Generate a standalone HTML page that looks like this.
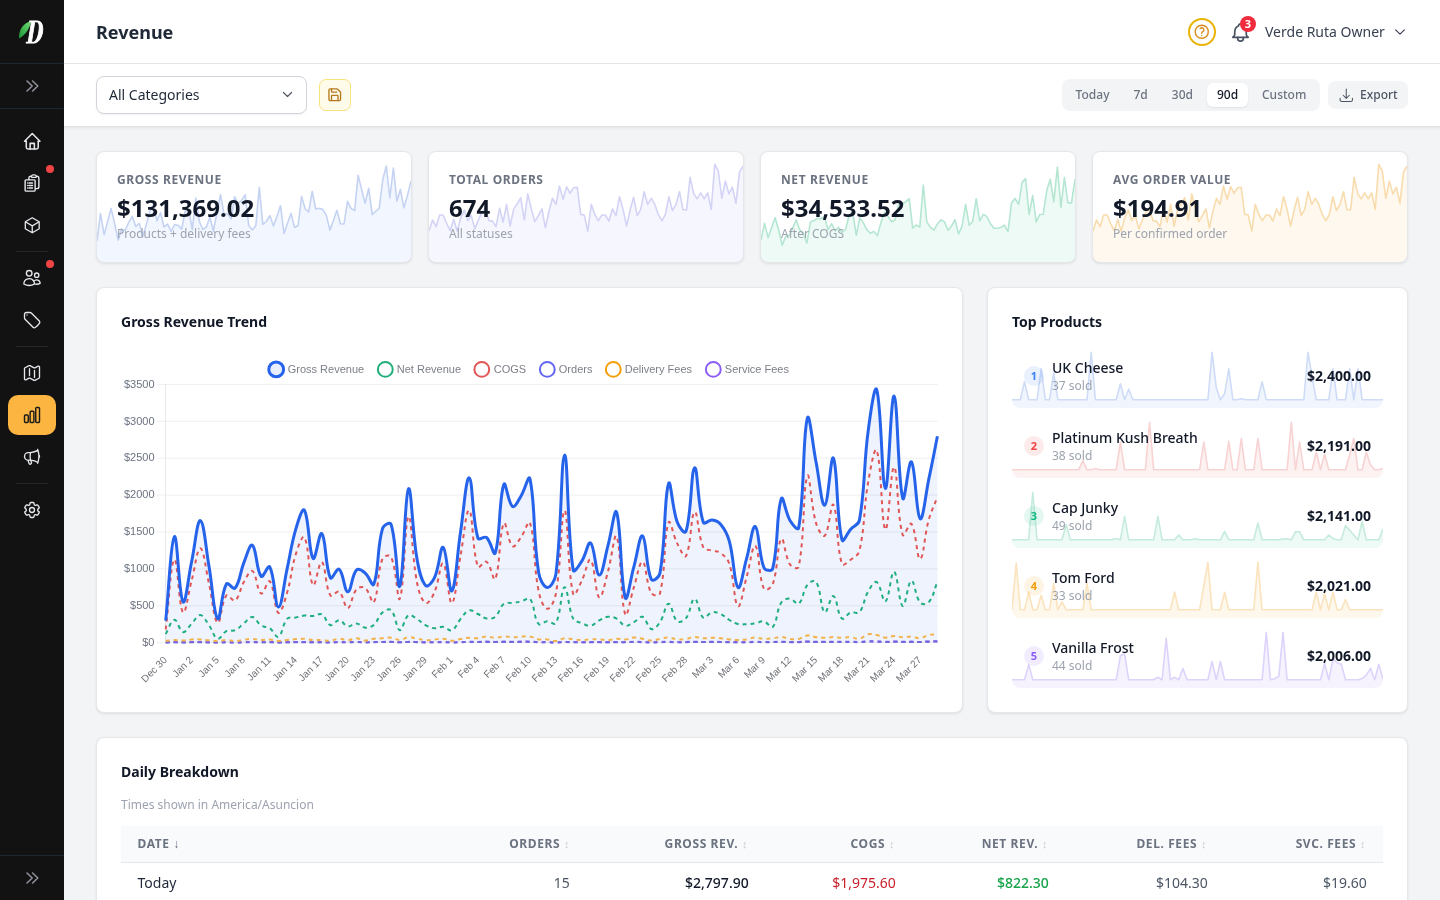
<!DOCTYPE html>
<html lang="en"><head><meta charset="utf-8"><title>Revenue</title>
<style>
*{box-sizing:border-box;margin:0;padding:0}
html,body{width:1440px;height:900px;overflow:hidden;background:#f3f4f6;font-family:"Noto Sans","Liberation Sans",sans-serif;color:#111827}
.abs{position:absolute}
.t{position:absolute;line-height:1;white-space:nowrap}
.sb{position:absolute;left:0;top:0;width:64px;height:900px;background:#121212}
.sdiv{position:absolute;left:0;width:64px;height:1px;background:#1f2733}
.sdiv2{position:absolute;left:16px;width:32px;height:1px;background:#262626}
.dot{position:absolute;width:8px;height:8px;border-radius:50%;background:#ef4444}
.hdr{position:absolute;left:64px;top:0;width:1376px;height:64px;background:#fff;border-bottom:1px solid #e5e7eb}
.tb{position:absolute;left:64px;top:64px;width:1376px;height:63px;background:#fff;border-bottom:1px solid #dfe1e4;box-shadow:0 1px 3px rgba(0,0,0,0.08)}
.card{position:absolute;background:#fff;border:1px solid #e5e7eb;border-radius:8px;box-shadow:0 1px 3px rgba(0,0,0,0.08),0 1px 2px -1px rgba(0,0,0,0.06)}
.yl{font-family:"Liberation Sans",Arial,sans-serif;font-size:11px;fill:#6b7280}
.xl{font-family:"Liberation Sans",Arial,sans-serif;font-size:10px;fill:#6f7177}
.lg{font-family:"Liberation Sans",Arial,sans-serif;font-size:11px;fill:#7b7f87}
.prow{position:absolute;left:1012px;width:371px;height:60px}
.rank{position:absolute;left:12px;top:18px;width:20px;height:20px;border-radius:50%;font-size:11px;font-weight:700;line-height:20px;text-align:center}
.pname{position:absolute;left:40px;top:12.9px;font-size:14px;font-weight:500;line-height:1;color:#111827;white-space:nowrap}
.psold{position:absolute;left:40px;top:32px;font-size:12px;line-height:1;color:#9ca3af;white-space:nowrap}
.pprice{position:absolute;right:12px;top:20.6px;font-size:14px;line-height:1;font-weight:700;color:#111827}
</style></head>
<body>
<div class="sb"></div>
<svg class="abs" style="left:14px;top:14px" width="36" height="36" viewBox="0 0 36 36"><defs><linearGradient id="lf" x1="0" y1="1" x2="1" y2="0"><stop offset="0" stop-color="#1f8f35"/><stop offset="0.6" stop-color="#4cc25a"/><stop offset="1" stop-color="#7fd77a"/></linearGradient></defs><path d="M5 24.6 C4.6 15.6 9.4 8.4 17.4 7.2 C15.6 13.6 12.4 20.4 5 24.6Z" fill="url(#lf)"/><text x="0" y="0" transform="translate(12.9 29.2) scale(0.72 1)" font-family="Bodoni Moda,Liberation Serif,serif" font-style="italic" font-weight="700" font-size="29" fill="#fff" stroke="#fff" stroke-width="1.1" stroke-linejoin="round">D</text></svg>
<div class="sdiv" style="top:63px"></div>
<svg class="abs" style="left:20.0px;top:74.0px" width="24" height="24" viewBox="0 0 24 24" fill="none" stroke="#8e9099" stroke-width="1.6" stroke-linecap="round" stroke-linejoin="round"><path d="M7 7l5.2 5-5.2 5M12.6 7l5.2 5-5.2 5"/></svg>
<div class="sdiv" style="top:108px"></div>
<svg class="abs" style="left:21.8px;top:130.9px" width="20.5" height="20.5" viewBox="0 0 24 24" fill="none" stroke="#e5e7eb" stroke-width="1.8" stroke-linecap="round" stroke-linejoin="round"><path d="M5 12l-2 0l9 -9l9 9l-2 0"/><path d="M5 12v7a2 2 0 0 0 2 2h10a2 2 0 0 0 2 -2v-7"/><path d="M9.5 21v-6.5h5v6.5"/></svg>
<svg class="abs" style="left:22.0px;top:173.0px" width="20" height="20" viewBox="0 0 24 24" fill="none" stroke="#e5e7eb" stroke-width="1.7" stroke-linecap="round" stroke-linejoin="round"><path d="M8.4 12h4.2M8.4 15h4.2M8.4 18h4.2m3.15 .75H18a2.25 2.25 0 0 0 2.25-2.25V6.108c0-1.135-.845-2.098-1.976-2.192a48.424 48.424 0 0 0-1.123-.08m-5.801 0c-.065.21-.1.433-.1.664 0 .414.336.75.75.75h4.5a.75.75 0 0 0 .75-.75 2.25 2.25 0 0 0-.1-.664m-5.8 0A2.251 2.251 0 0 1 13.5 2.25H15c1.012 0 1.867.668 2.15 1.586m-5.8 0c-.376.023-.75.05-1.124.08C9.095 4.01 8.25 4.973 8.25 6.108V8.25m0 0H4.875c-.621 0-1.125.504-1.125 1.125v11.25c0 .621.504 1.125 1.125 1.125h9.75c.621 0 1.125-.504 1.125-1.125V9.375c0-.621-.504-1.125-1.125-1.125H8.25ZM6.75 12h.008v.008H6.75V12Zm0 3h.008v.008H6.75V15Zm0 3h.008v.008H6.75V18Z"/></svg>
<div class="dot" style="left:46px;top:164.6px"></div>
<svg class="abs" style="left:22.8px;top:215.8px" width="18.5" height="18.5" viewBox="0 0 24 24" fill="none" stroke="#e5e7eb" stroke-width="1.7" stroke-linecap="round" stroke-linejoin="round"><path d="m21 7.5-9-5.25L3 7.5m18 0-9 5.25m9-5.25v9l-9 5.25M3 7.5l9 5.25M3 7.5v9l9 5.25m0-9v9"/></svg>
<div class="sdiv2" style="top:251px"></div>
<svg class="abs" style="left:22.0px;top:268.0px" width="20" height="20" viewBox="0 0 24 24" fill="none" stroke="#e5e7eb" stroke-width="1.6" stroke-linecap="round" stroke-linejoin="round"><path d="M15 19.128a9.38 9.38 0 0 0 2.625.372 9.337 9.337 0 0 0 4.121-.952 4.125 4.125 0 0 0-7.533-2.493M15 19.128v-.003c0-1.113-.285-2.16-.786-3.07M15 19.128v.106A12.318 12.318 0 0 1 8.624 21c-2.331 0-4.512-.645-6.374-1.766l-.001-.109a6.375 6.375 0 0 1 11.964-3.07M12 6.375a3.375 3.375 0 1 1-6.75 0 3.375 3.375 0 0 1 6.75 0Zm8.25 2.25a2.625 2.625 0 1 1-5.25 0 2.625 2.625 0 0 1 5.25 0Z"/></svg>
<div class="dot" style="left:46px;top:259.6px"></div>
<svg class="abs" style="left:22.0px;top:310.0px" width="20" height="20" viewBox="0 0 24 24" fill="none" stroke="#e5e7eb" stroke-width="1.6" stroke-linecap="round" stroke-linejoin="round"><path d="M9.568 3H5.25A2.25 2.25 0 0 0 3 5.25v4.318c0 .597.237 1.17.659 1.591l9.581 9.581c.699.699 1.78.872 2.607.33a18.095 18.095 0 0 0 5.223-5.223c.542-.827.369-1.908-.33-2.607L11.16 3.66A2.25 2.25 0 0 0 9.568 3ZM6 6h.008v.008H6V6Z"/></svg>
<div class="sdiv2" style="top:346px"></div>
<svg class="abs" style="left:22.0px;top:363.0px" width="20" height="20" viewBox="0 0 24 24" fill="none" stroke="#e5e7eb" stroke-width="1.6" stroke-linecap="round" stroke-linejoin="round"><path d="M9 6.75V15m6-6v8.25m.503 3.498 4.875-2.437c.381-.19.622-.58.622-1.006V4.82c0-.836-.88-1.38-1.628-1.006l-3.869 1.934c-.317.159-.69.159-1.006 0L9.503 3.252a1.125 1.125 0 0 0-1.006 0L3.622 5.689C3.24 5.88 3 6.27 3 6.695V19.18c0 .836.88 1.38 1.628 1.006l3.869-1.934c.317-.159.69-.159 1.006 0l4.994 2.497c.317.158.69.158 1.006 0Z"/></svg>
<div class="abs" style="left:8px;top:395px;width:48px;height:40px;border-radius:10px;background:#fbb540"></div>
<svg class="abs" style="left:22.0px;top:405.0px" width="20" height="20" viewBox="0 0 24 24" fill="none" stroke="#1a1a1a" stroke-width="1.7" stroke-linecap="round" stroke-linejoin="round"><path d="M3 13.125C3 12.504 3.504 12 4.125 12h2.25c.621 0 1.125.504 1.125 1.125v6.75C7.5 20.496 6.996 21 6.375 21h-2.25A1.125 1.125 0 0 1 3 19.875v-6.75ZM9.75 8.625c0-.621.504-1.125 1.125-1.125h2.25c.621 0 1.125.504 1.125 1.125v11.25c0 .621-.504 1.125-1.125 1.125h-2.25a1.125 1.125 0 0 1-1.125-1.125V8.625ZM16.5 4.125c0-.621.504-1.125 1.125-1.125h2.25C20.496 3 21 3.504 21 4.125v15.75c0 .621-.504 1.125-1.125 1.125h-2.25a1.125 1.125 0 0 1-1.125-1.125V4.125Z"/></svg>
<svg class="abs" style="left:22.0px;top:447.0px" width="20" height="20" viewBox="0 0 24 24" fill="none" stroke="#e5e7eb" stroke-width="1.6" stroke-linecap="round" stroke-linejoin="round"><path d="M10.34 15.84c-.688-.06-1.386-.09-2.09-.09H7.5a4.5 4.5 0 1 1 0-9h.75c.704 0 1.402-.03 2.09-.09m0 9.18c.253.962.584 1.892.985 2.783.247.55.06 1.21-.463 1.511l-.657.38c-.551.318-1.26.117-1.527-.461a20.845 20.845 0 0 1-1.44-4.282m3.102.069a18.03 18.03 0 0 1-.59-4.59c0-1.586.205-3.124.59-4.59m0 9.18a23.848 23.848 0 0 1 8.835 2.535M10.34 6.66a23.847 23.847 0 0 0 8.835-2.535m0 0A23.74 23.74 0 0 0 18.795 3m.38 1.125a23.91 23.91 0 0 1 1.014 5.395m-1.014 8.855c-.118.38-.245.754-.38 1.125m.38-1.125a23.91 23.91 0 0 0 1.014-5.395m0-3.46c.495.413.811 1.035.811 1.73 0 .695-.316 1.317-.811 1.73m0-3.46a24.347 24.347 0 0 1 0 3.46"/></svg>
<div class="sdiv2" style="top:483px"></div>
<svg class="abs" style="left:22.0px;top:500.0px" width="20" height="20" viewBox="0 0 24 24" fill="none" stroke="#e5e7eb" stroke-width="1.6" stroke-linecap="round" stroke-linejoin="round"><path d="M9.594 3.94c.09-.542.56-.94 1.11-.94h2.593c.55 0 1.02.398 1.11.94l.213 1.281c.063.374.313.686.645.87.074.04.147.083.22.127.325.196.72.257 1.075.124l1.217-.456a1.125 1.125 0 0 1 1.37.49l1.296 2.247a1.125 1.125 0 0 1-.26 1.431l-1.003.827c-.293.241-.438.613-.43.992a7.723 7.723 0 0 1 0 .255c-.008.378.137.75.43.991l1.004.827c.424.35.534.955.26 1.43l-1.298 2.247a1.125 1.125 0 0 1-1.369.491l-1.217-.456c-.355-.133-.75-.072-1.076.124a6.47 6.47 0 0 1-.22.128c-.331.183-.581.495-.644.869l-.213 1.281c-.09.543-.56.94-1.11.94h-2.594c-.55 0-1.019-.398-1.11-.94l-.213-1.281c-.062-.374-.312-.686-.644-.87a6.52 6.52 0 0 1-.22-.127c-.325-.196-.72-.257-1.076-.124l-1.217.456a1.125 1.125 0 0 1-1.369-.49l-1.297-2.247a1.125 1.125 0 0 1 .26-1.431l1.004-.827c.292-.24.437-.613.43-.991a6.932 6.932 0 0 1 0-.255c.007-.38-.138-.751-.43-.992l-1.004-.827a1.125 1.125 0 0 1-.26-1.43l1.297-2.247a1.125 1.125 0 0 1 1.37-.491l1.216.456c.356.133.751.072 1.076-.124.072-.044.146-.086.22-.128.332-.183.582-.495.644-.869l.214-1.28ZM15 12a3 3 0 1 1-6 0 3 3 0 0 1 6 0Z"/></svg>
<div class="sdiv" style="top:855px"></div>
<svg class="abs" style="left:20.0px;top:866.0px" width="24" height="24" viewBox="0 0 24 24" fill="none" stroke="#8e9099" stroke-width="1.6" stroke-linecap="round" stroke-linejoin="round"><path d="M7 7l5.2 5-5.2 5M12.6 7l5.2 5-5.2 5"/></svg>
<div class="hdr"></div>
<div class="t" style="left:96.0px;top:23.0px;font-size:18px;font-weight:700;color:#1f2937;font-family:'Noto Sans','Liberation Sans',sans-serif;">Revenue</div>
<div class="abs" style="left:1188px;top:18px;width:28px;height:28px;border-radius:50%;border:2px solid #eab308"></div>
<svg class="abs" style="left:1193.2px;top:23.2px" width="17.5" height="17.5" viewBox="0 0 24 24" fill="none" stroke="#d98c1e" stroke-width="1.9" stroke-linecap="round" stroke-linejoin="round"><path d="M9.879 7.519c1.171-1.025 3.071-1.025 4.242 0 1.172 1.025 1.172 2.687 0 3.712-.203.179-.43.326-.67.442-.745.361-1.45.999-1.45 1.827v.75M21 12a9 9 0 1 1-18 0 9 9 0 0 1 18 0Zm-9 5.25h.008v.008H12v-.008Z"/></svg>
<svg class="abs" style="left:1228.5px;top:20.8px" width="23" height="23" viewBox="0 0 24 24" fill="none" stroke="#4b5563" stroke-width="1.8" stroke-linecap="round" stroke-linejoin="round"><path d="M10 5a2 2 0 1 1 4 0a7 7 0 0 1 4 6v3a4 4 0 0 0 2 3h-16a4 4 0 0 0 2 -3v-3a7 7 0 0 1 4 -6"/><path d="M9 17v1a3 3 0 0 0 6 0v-1"/></svg>
<div class="abs" style="left:1240px;top:16px;width:16px;height:16px;border-radius:50%;background:#ef2b3c;color:#fff;font-size:11px;font-weight:700;line-height:16px;text-align:center">3</div>
<div class="t" style="left:1265.0px;top:24.6px;font-size:14px;font-weight:400;color:#374151;font-family:'Noto Sans','Liberation Sans',sans-serif;">Verde Ruta Owner</div>
<svg class="abs" style="left:1393.0px;top:25.0px" width="14" height="14" viewBox="0 0 24 24" fill="none" stroke="#374151" stroke-width="2" stroke-linecap="round" stroke-linejoin="round"><path d="m19.5 8.25-7.5 7.5-7.5-7.5"/></svg>
<div class="tb"></div>
<div class="abs" style="left:96px;top:76px;width:211px;height:38px;border:1px solid #d1d5db;border-radius:8px;background:#fff;box-shadow:0 1px 2px rgba(0,0,0,0.05)"></div>
<div class="t" style="left:109.0px;top:87.6px;font-size:14px;font-weight:400;color:#1f2937;font-family:'Noto Sans','Liberation Sans',sans-serif;">All Categories</div>
<svg class="abs" style="left:281.3px;top:88.3px" width="13" height="13" viewBox="0 0 24 24" fill="none" stroke="#555b65" stroke-width="2.3" stroke-linecap="round" stroke-linejoin="round"><path d="m19.5 8.25-7.5 7.5-7.5-7.5"/></svg>
<div class="abs" style="left:319px;top:79px;width:32px;height:32px;border:1px solid #f8e27c;border-radius:7px;background:#fffbeb"></div>
<svg class="abs" style="left:327.1px;top:86.8px" width="15.5" height="15.5" viewBox="0 0 24 24" fill="none" stroke="#b7791f" stroke-width="2.1" stroke-linecap="round" stroke-linejoin="round"><path d="M15.2 3a2 2 0 0 1 1.4.6l3.8 3.8a2 2 0 0 1 .6 1.4V19a2 2 0 0 1-2 2H5a2 2 0 0 1-2-2V5a2 2 0 0 1 2-2z"/><path d="M17 21v-7a1 1 0 0 0-1-1H8a1 1 0 0 0-1 1v7"/><path d="M7 3v4a1 1 0 0 0 1 1h7"/></svg>
<div class="abs" style="left:1062px;top:79px;width:258px;height:32px;border-radius:8px;background:#f3f4f6"></div>
<div class="abs" style="left:1207px;top:83px;width:41px;height:24px;border-radius:6px;background:#fff;box-shadow:0 1px 2px rgba(0,0,0,0.08)"></div>
<div class="t" style="left:1075.6px;top:89.2px;font-size:12px;font-weight:500;color:#6b7280;font-family:'Noto Sans','Liberation Sans',sans-serif;">Today</div>
<div class="t" style="left:1133.5px;top:89.2px;font-size:12px;font-weight:500;color:#6b7280;font-family:'Noto Sans','Liberation Sans',sans-serif;">7d</div>
<div class="t" style="left:1171.8px;top:89.2px;font-size:12px;font-weight:500;color:#6b7280;font-family:'Noto Sans','Liberation Sans',sans-serif;">30d</div>
<div class="t" style="left:1217.0px;top:89.2px;font-size:12px;font-weight:500;color:#111827;font-family:'Noto Sans','Liberation Sans',sans-serif;">90d</div>
<div class="t" style="left:1262.0px;top:89.2px;font-size:12px;font-weight:500;color:#6b7280;font-family:'Noto Sans','Liberation Sans',sans-serif;">Custom</div>
<div class="abs" style="left:1328px;top:81px;width:80px;height:28px;border-radius:8px;background:#f3f4f6"></div>
<svg class="abs" style="left:1338.0px;top:86.8px" width="16.5" height="16.5" viewBox="0 0 24 24" fill="none" stroke="#4b5563" stroke-width="1.5" stroke-linecap="round" stroke-linejoin="round"><path d="M3 16.5v2.25A2.25 2.25 0 0 0 5.25 21h13.5A2.25 2.25 0 0 0 21 18.75V16.5M16.5 12 12 16.5m0 0L7.5 12m4.5 4.5V3"/></svg>
<div class="t" style="left:1360.0px;top:89.2px;font-size:12px;font-weight:500;color:#4b5563;font-family:'Noto Sans','Liberation Sans',sans-serif;">Export</div>
<div class="card" style="left:96px;top:151px;width:316px;height:112px"></div>
<div class="card" style="left:428px;top:151px;width:316px;height:112px"></div>
<div class="card" style="left:760px;top:151px;width:316px;height:112px"></div>
<div class="card" style="left:1092px;top:151px;width:316px;height:112px"></div>
<svg class="abs" style="left:0;top:0" width="1440" height="900" viewBox="0 0 1440 900"><defs><clipPath id="cc0"><rect x="97" y="152" width="314" height="110" rx="7"/></clipPath><clipPath id="cc1"><rect x="429" y="152" width="314" height="110" rx="7"/></clipPath><clipPath id="cc2"><rect x="761" y="152" width="314" height="110" rx="7"/></clipPath><clipPath id="cc3"><rect x="1093" y="152" width="314" height="110" rx="7"/></clipPath></defs><g clip-path="url(#cc0)"><path d="M97,240.9 L100.5,213.6 L104.1,234.7 L107.6,221.6 L111.1,208.4 L114.6,223.4 L118.2,240.2 L121.7,228.9 L125.2,230.3 L128.8,222.2 L132.3,216.4 L135.8,226.5 L139.3,223.4 L142.9,236.4 L146.4,224.1 L149.9,211.2 L153.4,205 L157,220.7 L160.5,212.6 L164,227 L167.6,224.2 L171.1,231.5 L174.6,224.5 L178.1,225.4 L181.7,229.1 L185.2,211 L188.7,209.6 L192.3,229.7 L195.8,198.1 L199.3,221.2 L202.8,229.5 L206.4,226.9 L209.9,217.1 L213.4,231.2 L217,212.2 L220.5,194.6 L224,214 L227.5,213.9 L231.1,218.9 L234.6,196.7 L238.1,203.8 L241.7,200.3 L245.2,194.8 L248.7,225.1 L252.2,230.1 L255.8,225.7 L259.3,187.2 L262.8,224.4 L266.3,221.5 L269.9,215.6 L273.4,226.1 L276.9,216.6 L280.5,205.7 L284,233.4 L287.5,223.3 L291,213.4 L294.6,227.5 L298.1,225.5 L301.6,196.4 L305.2,209 L308.7,211.9 L312.2,191.3 L315.7,209 L319.3,208.2 L322.8,209.6 L326.3,215.1 L329.9,230.1 L333.4,220.6 L336.9,210.3 L340.4,223.7 L344,224 L347.5,201.3 L351,208.4 L354.6,210.7 L358.1,175.2 L361.6,189.4 L365.1,203.4 L368.7,188.2 L372.2,214.7 L375.7,211.2 L379.2,208.4 L382.8,179.5 L386.3,166 L389.8,198 L393.4,168 L396.9,201.1 L400.4,189.4 L403.9,207.8 L407.5,195.1 L411,181.1 L411,263 L97,263 Z" fill="rgba(37,99,235,0.06)"/><path d="M97,240.9 L100.5,213.6 L104.1,234.7 L107.6,221.6 L111.1,208.4 L114.6,223.4 L118.2,240.2 L121.7,228.9 L125.2,230.3 L128.8,222.2 L132.3,216.4 L135.8,226.5 L139.3,223.4 L142.9,236.4 L146.4,224.1 L149.9,211.2 L153.4,205 L157,220.7 L160.5,212.6 L164,227 L167.6,224.2 L171.1,231.5 L174.6,224.5 L178.1,225.4 L181.7,229.1 L185.2,211 L188.7,209.6 L192.3,229.7 L195.8,198.1 L199.3,221.2 L202.8,229.5 L206.4,226.9 L209.9,217.1 L213.4,231.2 L217,212.2 L220.5,194.6 L224,214 L227.5,213.9 L231.1,218.9 L234.6,196.7 L238.1,203.8 L241.7,200.3 L245.2,194.8 L248.7,225.1 L252.2,230.1 L255.8,225.7 L259.3,187.2 L262.8,224.4 L266.3,221.5 L269.9,215.6 L273.4,226.1 L276.9,216.6 L280.5,205.7 L284,233.4 L287.5,223.3 L291,213.4 L294.6,227.5 L298.1,225.5 L301.6,196.4 L305.2,209 L308.7,211.9 L312.2,191.3 L315.7,209 L319.3,208.2 L322.8,209.6 L326.3,215.1 L329.9,230.1 L333.4,220.6 L336.9,210.3 L340.4,223.7 L344,224 L347.5,201.3 L351,208.4 L354.6,210.7 L358.1,175.2 L361.6,189.4 L365.1,203.4 L368.7,188.2 L372.2,214.7 L375.7,211.2 L379.2,208.4 L382.8,179.5 L386.3,166 L389.8,198 L393.4,168 L396.9,201.1 L400.4,189.4 L403.9,207.8 L407.5,195.1 L411,181.1" fill="none" stroke="#c5d3f3" stroke-width="1.6" stroke-linejoin="round"/></g><g clip-path="url(#cc1)"><path d="M429,231.1 L432.5,220 L436.1,226.7 L439.6,215 L443.1,215 L446.6,223.3 L450.2,230.6 L453.7,219.4 L457.2,231.1 L460.8,217.8 L464.3,210 L467.8,220.6 L471.3,215.6 L474.9,228.9 L478.4,220 L481.9,212.2 L485.4,208.9 L489,220.6 L492.5,221.1 L496,226.7 L499.6,208.3 L503.1,222.2 L506.6,204.4 L510.1,226.1 L513.7,208.9 L517.2,203.9 L520.7,197.8 L524.3,220 L527.8,193.9 L531.3,208.9 L534.8,221.7 L538.4,215.6 L541.9,208.9 L545.4,227.8 L549,211.1 L552.5,198.3 L556,204.4 L559.5,186.1 L563.1,199.4 L566.6,186.7 L570.1,193.3 L573.7,187.8 L577.2,187.2 L580.7,214.4 L584.2,215 L587.8,231.1 L591.3,204.4 L594.8,214.4 L598.3,220.6 L601.9,215 L605.4,215 L608.9,221.1 L612.5,208.9 L616,215.6 L619.5,196.7 L623,208.9 L626.6,226.1 L630.1,210 L633.6,197.2 L637.2,215.6 L640.7,209.4 L644.2,191.7 L647.7,204.4 L651.3,198.3 L654.8,204.4 L658.3,214.4 L661.9,220.9 L665.4,214.4 L668.9,196.7 L672.4,210.6 L676,204.4 L679.5,191.7 L683,209.8 L686.6,209.8 L690.1,177.2 L693.6,193.3 L697.1,198.9 L700.7,192.8 L704.2,198.9 L707.7,192.8 L711.2,209.4 L714.8,164.4 L718.3,171.1 L721.8,198.3 L725.4,181.1 L728.9,193.9 L732.4,187.2 L735.9,203.3 L739.5,172.2 L743,166.1 L743,263 L429,263 Z" fill="rgba(99,102,241,0.06)"/><path d="M429,231.1 L432.5,220 L436.1,226.7 L439.6,215 L443.1,215 L446.6,223.3 L450.2,230.6 L453.7,219.4 L457.2,231.1 L460.8,217.8 L464.3,210 L467.8,220.6 L471.3,215.6 L474.9,228.9 L478.4,220 L481.9,212.2 L485.4,208.9 L489,220.6 L492.5,221.1 L496,226.7 L499.6,208.3 L503.1,222.2 L506.6,204.4 L510.1,226.1 L513.7,208.9 L517.2,203.9 L520.7,197.8 L524.3,220 L527.8,193.9 L531.3,208.9 L534.8,221.7 L538.4,215.6 L541.9,208.9 L545.4,227.8 L549,211.1 L552.5,198.3 L556,204.4 L559.5,186.1 L563.1,199.4 L566.6,186.7 L570.1,193.3 L573.7,187.8 L577.2,187.2 L580.7,214.4 L584.2,215 L587.8,231.1 L591.3,204.4 L594.8,214.4 L598.3,220.6 L601.9,215 L605.4,215 L608.9,221.1 L612.5,208.9 L616,215.6 L619.5,196.7 L623,208.9 L626.6,226.1 L630.1,210 L633.6,197.2 L637.2,215.6 L640.7,209.4 L644.2,191.7 L647.7,204.4 L651.3,198.3 L654.8,204.4 L658.3,214.4 L661.9,220.9 L665.4,214.4 L668.9,196.7 L672.4,210.6 L676,204.4 L679.5,191.7 L683,209.8 L686.6,209.8 L690.1,177.2 L693.6,193.3 L697.1,198.9 L700.7,192.8 L704.2,198.9 L707.7,192.8 L711.2,209.4 L714.8,164.4 L718.3,171.1 L721.8,198.3 L725.4,181.1 L728.9,193.9 L732.4,187.2 L735.9,203.3 L739.5,172.2 L743,166.1" fill="none" stroke="#d3d3f6" stroke-width="1.6" stroke-linejoin="round"/></g><g clip-path="url(#cc2)"><path d="M761,239.8 L764.5,223.3 L768.1,237.6 L771.6,227.7 L775.1,217.7 L778.6,229.8 L782.2,245.3 L785.7,236.5 L789.2,235.3 L792.8,227.6 L796.3,219.9 L799.8,229.9 L803.3,233.2 L806.9,243.1 L810.4,222.1 L813.9,220.6 L817.4,218.3 L821,218.8 L824.5,216.8 L828,229.6 L831.6,223.7 L835.1,230.9 L838.6,227.4 L842.1,232.5 L845.7,229.2 L849.2,214.8 L852.7,212 L856.3,235.3 L859.8,217.7 L863.3,222.6 L866.8,229.6 L870.4,233.2 L873.9,231.4 L877.4,235.6 L881,222.4 L884.5,212.2 L888,216.4 L891.5,221.7 L895.1,219.7 L898.6,204.5 L902.1,203.5 L905.7,201.9 L909.2,198.6 L912.7,228.2 L916.2,225 L919.8,227.1 L923.3,185.1 L926.8,221.9 L930.3,227.1 L933.9,230.2 L937.4,223.9 L940.9,219.7 L944.5,221.9 L948,230.2 L951.5,226 L955,219.7 L958.6,234 L962.1,226.2 L965.6,204.4 L969.2,225.2 L972.7,221.4 L976.2,198.7 L979.7,220.8 L983.3,214.4 L986.8,216.4 L990.3,223.5 L993.9,228.2 L997.4,228.3 L1000.9,227.4 L1004.4,225.2 L1008,231.6 L1011.5,203.1 L1015,198.5 L1018.6,204.4 L1022.1,182.4 L1025.6,178.6 L1029.1,214.5 L1032.7,195.5 L1036.2,221.9 L1039.7,214.5 L1043.2,214.5 L1046.8,190.2 L1050.3,179.2 L1053.8,201.9 L1057.4,167 L1060.9,207.1 L1064.4,177.5 L1067.9,202.9 L1071.5,202.9 L1075,179.1 L1075,263 L761,263 Z" fill="rgba(16,185,129,0.07)"/><path d="M761,239.8 L764.5,223.3 L768.1,237.6 L771.6,227.7 L775.1,217.7 L778.6,229.8 L782.2,245.3 L785.7,236.5 L789.2,235.3 L792.8,227.6 L796.3,219.9 L799.8,229.9 L803.3,233.2 L806.9,243.1 L810.4,222.1 L813.9,220.6 L817.4,218.3 L821,218.8 L824.5,216.8 L828,229.6 L831.6,223.7 L835.1,230.9 L838.6,227.4 L842.1,232.5 L845.7,229.2 L849.2,214.8 L852.7,212 L856.3,235.3 L859.8,217.7 L863.3,222.6 L866.8,229.6 L870.4,233.2 L873.9,231.4 L877.4,235.6 L881,222.4 L884.5,212.2 L888,216.4 L891.5,221.7 L895.1,219.7 L898.6,204.5 L902.1,203.5 L905.7,201.9 L909.2,198.6 L912.7,228.2 L916.2,225 L919.8,227.1 L923.3,185.1 L926.8,221.9 L930.3,227.1 L933.9,230.2 L937.4,223.9 L940.9,219.7 L944.5,221.9 L948,230.2 L951.5,226 L955,219.7 L958.6,234 L962.1,226.2 L965.6,204.4 L969.2,225.2 L972.7,221.4 L976.2,198.7 L979.7,220.8 L983.3,214.4 L986.8,216.4 L990.3,223.5 L993.9,228.2 L997.4,228.3 L1000.9,227.4 L1004.4,225.2 L1008,231.6 L1011.5,203.1 L1015,198.5 L1018.6,204.4 L1022.1,182.4 L1025.6,178.6 L1029.1,214.5 L1032.7,195.5 L1036.2,221.9 L1039.7,214.5 L1043.2,214.5 L1046.8,190.2 L1050.3,179.2 L1053.8,201.9 L1057.4,167 L1060.9,207.1 L1064.4,177.5 L1067.9,202.9 L1071.5,202.9 L1075,179.1" fill="none" stroke="#b5e6d2" stroke-width="1.6" stroke-linejoin="round"/></g><g clip-path="url(#cc3)"><path d="M1093,231.1 L1096.5,220 L1100.1,226.7 L1103.6,215 L1107.1,215 L1110.6,223.3 L1114.2,230.6 L1117.7,219.4 L1121.2,231.1 L1124.8,217.8 L1128.3,210 L1131.8,220.6 L1135.3,215.6 L1138.9,228.9 L1142.4,220 L1145.9,212.2 L1149.4,208.9 L1153,220.6 L1156.5,221.1 L1160,226.7 L1163.6,208.3 L1167.1,222.2 L1170.6,204.4 L1174.1,226.1 L1177.7,208.9 L1181.2,203.9 L1184.7,197.8 L1188.3,220 L1191.8,193.9 L1195.3,208.9 L1198.8,221.7 L1202.4,215.6 L1205.9,208.9 L1209.4,227.8 L1213,211.1 L1216.5,198.3 L1220,204.4 L1223.5,186.1 L1227.1,199.4 L1230.6,186.7 L1234.1,193.3 L1237.7,187.8 L1241.2,187.2 L1244.7,214.4 L1248.2,215 L1251.8,231.1 L1255.3,204.4 L1258.8,214.4 L1262.3,220.6 L1265.9,215 L1269.4,215 L1272.9,221.1 L1276.5,208.9 L1280,215.6 L1283.5,196.7 L1287,208.9 L1290.6,226.1 L1294.1,210 L1297.6,197.2 L1301.2,215.6 L1304.7,209.4 L1308.2,191.7 L1311.7,204.4 L1315.3,198.3 L1318.8,204.4 L1322.3,214.4 L1325.9,220.9 L1329.4,214.4 L1332.9,196.7 L1336.4,210.6 L1340,204.4 L1343.5,191.7 L1347,209.8 L1350.6,209.8 L1354.1,177.2 L1357.6,193.3 L1361.1,198.9 L1364.7,192.8 L1368.2,198.9 L1371.7,192.8 L1375.2,209.4 L1378.8,164.4 L1382.3,171.1 L1385.8,198.3 L1389.4,181.1 L1392.9,193.9 L1396.4,187.2 L1399.9,203.3 L1403.5,172.2 L1407,166.1 L1407,263 L1093,263 Z" fill="rgba(245,158,11,0.07)"/><path d="M1093,231.1 L1096.5,220 L1100.1,226.7 L1103.6,215 L1107.1,215 L1110.6,223.3 L1114.2,230.6 L1117.7,219.4 L1121.2,231.1 L1124.8,217.8 L1128.3,210 L1131.8,220.6 L1135.3,215.6 L1138.9,228.9 L1142.4,220 L1145.9,212.2 L1149.4,208.9 L1153,220.6 L1156.5,221.1 L1160,226.7 L1163.6,208.3 L1167.1,222.2 L1170.6,204.4 L1174.1,226.1 L1177.7,208.9 L1181.2,203.9 L1184.7,197.8 L1188.3,220 L1191.8,193.9 L1195.3,208.9 L1198.8,221.7 L1202.4,215.6 L1205.9,208.9 L1209.4,227.8 L1213,211.1 L1216.5,198.3 L1220,204.4 L1223.5,186.1 L1227.1,199.4 L1230.6,186.7 L1234.1,193.3 L1237.7,187.8 L1241.2,187.2 L1244.7,214.4 L1248.2,215 L1251.8,231.1 L1255.3,204.4 L1258.8,214.4 L1262.3,220.6 L1265.9,215 L1269.4,215 L1272.9,221.1 L1276.5,208.9 L1280,215.6 L1283.5,196.7 L1287,208.9 L1290.6,226.1 L1294.1,210 L1297.6,197.2 L1301.2,215.6 L1304.7,209.4 L1308.2,191.7 L1311.7,204.4 L1315.3,198.3 L1318.8,204.4 L1322.3,214.4 L1325.9,220.9 L1329.4,214.4 L1332.9,196.7 L1336.4,210.6 L1340,204.4 L1343.5,191.7 L1347,209.8 L1350.6,209.8 L1354.1,177.2 L1357.6,193.3 L1361.1,198.9 L1364.7,192.8 L1368.2,198.9 L1371.7,192.8 L1375.2,209.4 L1378.8,164.4 L1382.3,171.1 L1385.8,198.3 L1389.4,181.1 L1392.9,193.9 L1396.4,187.2 L1399.9,203.3 L1403.5,172.2 L1407,166.1" fill="none" stroke="#f8dcae" stroke-width="1.6" stroke-linejoin="round"/></g></svg>
<div class="t" style="left:117.0px;top:174.3px;font-size:12px;font-weight:700;color:#6b7280;font-family:'Noto Sans','Liberation Sans',sans-serif;letter-spacing:0.05em">GROSS REVENUE</div>
<div class="t" style="left:117.0px;top:195.8px;font-size:24px;font-weight:700;color:#111827;font-family:'Noto Sans','Liberation Sans',sans-serif;">$131,369.02</div>
<div class="t" style="left:117.0px;top:227.7px;font-size:12px;font-weight:400;color:#9ca3af;font-family:'Noto Sans','Liberation Sans',sans-serif;">Products + delivery fees</div>
<div class="t" style="left:449.0px;top:174.3px;font-size:12px;font-weight:700;color:#6b7280;font-family:'Noto Sans','Liberation Sans',sans-serif;letter-spacing:0.05em">TOTAL ORDERS</div>
<div class="t" style="left:449.0px;top:195.8px;font-size:24px;font-weight:700;color:#111827;font-family:'Noto Sans','Liberation Sans',sans-serif;">674</div>
<div class="t" style="left:449.0px;top:227.7px;font-size:12px;font-weight:400;color:#9ca3af;font-family:'Noto Sans','Liberation Sans',sans-serif;">All statuses</div>
<div class="t" style="left:781.0px;top:174.3px;font-size:12px;font-weight:700;color:#6b7280;font-family:'Noto Sans','Liberation Sans',sans-serif;letter-spacing:0.05em">NET REVENUE</div>
<div class="t" style="left:781.0px;top:195.8px;font-size:24px;font-weight:700;color:#111827;font-family:'Noto Sans','Liberation Sans',sans-serif;">$34,533.52</div>
<div class="t" style="left:781.0px;top:227.7px;font-size:12px;font-weight:400;color:#9ca3af;font-family:'Noto Sans','Liberation Sans',sans-serif;">After COGS</div>
<div class="t" style="left:1113.0px;top:174.3px;font-size:12px;font-weight:700;color:#6b7280;font-family:'Noto Sans','Liberation Sans',sans-serif;letter-spacing:0.05em">AVG ORDER VALUE</div>
<div class="t" style="left:1113.0px;top:195.8px;font-size:24px;font-weight:700;color:#111827;font-family:'Noto Sans','Liberation Sans',sans-serif;">$194.91</div>
<div class="t" style="left:1113.0px;top:227.7px;font-size:12px;font-weight:400;color:#9ca3af;font-family:'Noto Sans','Liberation Sans',sans-serif;">Per confirmed order</div>
<div class="card" style="left:96px;top:287px;width:867px;height:426px"></div>
<div class="t" style="left:121.0px;top:315.2px;font-size:14px;font-weight:700;color:#111827;font-family:'Noto Sans','Liberation Sans',sans-serif;">Gross Revenue Trend</div>
<svg class="abs" style="left:0;top:0" width="1440" height="900" viewBox="0 0 1440 900">
<line x1="157" y1="642.7" x2="938" y2="642.7" stroke="#eeeff1" stroke-width="1"/><text x="154.5" y="645.9" text-anchor="end" class="yl">$0</text><line x1="157" y1="605.8" x2="938" y2="605.8" stroke="#eeeff1" stroke-width="1"/><text x="154.5" y="609" text-anchor="end" class="yl">$500</text><line x1="157" y1="568.9" x2="938" y2="568.9" stroke="#eeeff1" stroke-width="1"/><text x="154.5" y="572.1" text-anchor="end" class="yl">$1000</text><line x1="157" y1="532" x2="938" y2="532" stroke="#eeeff1" stroke-width="1"/><text x="154.5" y="535.2" text-anchor="end" class="yl">$1500</text><line x1="157" y1="495.1" x2="938" y2="495.1" stroke="#eeeff1" stroke-width="1"/><text x="154.5" y="498.3" text-anchor="end" class="yl">$2000</text><line x1="157" y1="458.2" x2="938" y2="458.2" stroke="#eeeff1" stroke-width="1"/><text x="154.5" y="461.4" text-anchor="end" class="yl">$2500</text><line x1="157" y1="421.3" x2="938" y2="421.3" stroke="#eeeff1" stroke-width="1"/><text x="154.5" y="424.5" text-anchor="end" class="yl">$3000</text><line x1="157" y1="384.4" x2="938" y2="384.4" stroke="#eeeff1" stroke-width="1"/><text x="154.5" y="387.6" text-anchor="end" class="yl">$3500</text>
<line x1="165.5" y1="384" x2="165.5" y2="643" stroke="#e5e7eb" stroke-width="1"/>
<path d="M165.7,620.7C169.2,587.1 170.5,541 174.4,536.7C177.4,533.4 178.8,595.8 183,601.8C185.7,605.6 188.2,577.5 191.7,561.2C195.2,545 197.1,519.6 200.4,520.6C204.1,521.8 205.8,548.4 209.1,566.9C212.7,587.6 213.6,614.8 217.7,618.8C220.5,621.5 220.9,593.6 226.4,583.9C227.9,581.3 233.2,590.2 235.1,588C240.2,581.9 239.8,572.9 243.7,563.1C246.7,555.8 249.8,543.2 252.4,545.2C256.7,548.5 256.1,570.1 261.1,576.3C263,578.7 268.1,564 269.8,566.9C275,576.2 274.9,606.5 278.4,606.9C281.8,607.3 283.7,584.1 287.1,568.9C290.6,553 291.2,544.7 295.8,529.1C298.1,521.2 302.4,506.7 304.4,510.2C309.3,518.5 308.6,552.3 313.1,558.4C315.5,561.7 319.2,530.8 321.8,533.6C326.2,538.5 325,566.7 330.4,577.9C331.9,580.9 336.8,567.3 339.1,569.2C343.7,572.9 344.3,591.6 347.8,591.8C351.2,592 351.5,575.5 356.5,570.1C358.4,568 362.4,570.7 365.1,573C369.4,576.4 372.4,587.9 373.8,584.3C379.3,570.2 376.6,549.1 382.5,528.6C383.5,525.1 390.2,521.3 391.1,524.4C397.2,544.3 397.1,591.7 399.8,586.2C404,577.5 404.5,494.9 408.5,488.9C411.4,484.5 412.1,531.9 417.2,560C419.1,570.6 421,580.7 425.8,585.6C427.9,587.7 432.6,581.8 434.5,577.7C439.6,566.6 440.3,545.2 443.2,547.4C447.2,550.5 448.9,593.5 451.8,590.9C455.8,587.4 456.9,555.7 460.5,532.3C463.9,510.5 465.9,476.8 469.2,477.9C472.8,479.1 471.8,517.1 477.9,538C478.7,541 484.2,535.5 486.5,537.5C491.2,541.5 493.8,557.3 495.2,553C500.7,536.1 498.7,498.2 503.9,484.4C505.6,479.6 508.2,503.6 512.5,506.5C515.1,508.1 518.3,500.4 521.2,495.7C525.2,489.3 528.7,473.6 529.9,478.7C535.6,504.2 532.7,535.6 538.6,572.2C539.6,579 543.6,587 547.2,587.4C550.5,587.7 555.1,580.3 555.9,574.1C562,527.4 561,455.9 564.6,455.1C568,454.3 567,531.8 573.2,570C573.9,574.2 579.2,565.1 581.9,560.9C586.2,554.3 588,540.8 590.6,542.9C594.9,546.5 595.6,574.5 599.2,575.1C602.6,575.6 604.7,557.6 607.9,545.8C611.6,532.5 614.6,506.3 616.6,512.3C621.5,527.1 620.2,581.9 625.3,597.7C627.2,603.6 630.4,579 633.9,566.6C637.4,554.3 639.7,533.8 642.6,535.9C646.6,538.9 645.7,567.3 651.3,579.4C652.6,582.3 659.2,577.4 659.9,573.3C666.2,539 663.8,497.7 668.6,483.6C670.7,477.4 672,507.8 677.3,522.3C679,526.9 684.8,535 686,531.4C691.8,513.2 690.9,469.9 694.6,467.9C697.8,466.3 697.3,504.4 703.3,522.3C704.3,525.3 708.6,519.7 712,520C715.6,520.4 718.3,521.4 720.6,524.3C725.3,529.9 727.3,533.9 729.3,541.2C734.3,559.2 733.8,583.4 738,587.5C740.7,590.2 743.3,570 746.7,558.2C750.3,545.5 752.3,524.8 755.3,526.5C759.2,528.6 758.3,553.8 764,567.7C765.2,570.6 771.9,571.6 772.7,568.6C778.8,544 776.1,513.2 781.3,498.7C783.1,493.9 785.3,512.6 790,520.4C792.3,524.2 798,531.6 798.7,527.8C805,490.7 802.4,437 807.4,418.2C809.4,410.6 812.6,444.4 816,461.8C819.5,479.2 821.4,506 824.7,505.3C828.3,504.5 830.8,453.1 833.4,458.2C837.8,467 836.1,515.6 842,540C843,544 847.1,533.4 850.7,529.3C854,525.6 858.5,525.2 859.4,520.4C865.5,486.1 863.4,466.9 868.1,431.6C870.3,414.7 874.6,382.9 876.7,389.8C881.6,405.7 881.8,487.1 885.4,488.4C888.7,489.6 890.8,394.1 894.1,396C897.7,398 897.7,478.9 902.7,498.2C904.6,505.2 908.7,458.6 911.4,461.8C915.6,466.8 916,514.5 920.1,518.7C922.9,521.6 925.5,495.3 928.7,479.6C932.4,462.3 934,453.6 937.4,436.2L937.4,642.7L165.7,642.7Z" fill="rgba(37,99,235,0.08)"/>
<path d="M165.7,642.4C169.2,642.3 170.9,642.2 174.4,642.2C177.8,642.2 179.6,642.4 183,642.3C186.5,642.3 188.2,642.2 191.7,642.1C195.2,642.1 196.9,642.1 200.4,642.1C203.9,642.2 205.6,642.2 209.1,642.3C212.5,642.3 214.3,642.4 217.7,642.4C221.2,642.4 222.9,642.2 226.4,642.2C229.9,642.2 231.6,642.4 235.1,642.4C238.5,642.4 240.3,642.3 243.7,642.2C247.2,642.1 248.9,642 252.4,642C255.9,642.1 257.6,642.2 261.1,642.2C264.5,642.3 266.3,642.1 269.8,642.1C273.2,642.2 275,642.4 278.4,642.4C281.9,642.4 283.6,642.3 287.1,642.2C290.6,642.2 292.3,642.1 295.8,642.1C299.2,642 301,642 304.4,642C307.9,642.1 309.6,642.2 313.1,642.2C316.6,642.3 318.3,642.2 321.8,642.2C325.2,642.3 327,642.4 330.4,642.3C333.9,642.3 335.7,642 339.1,642C342.6,642 344.3,642.3 347.8,642.3C351.3,642.2 353,641.9 356.5,641.9C359.9,642 361.7,642.3 365.1,642.3C368.6,642.3 370.3,642.1 373.8,642C377.3,641.9 379,642 382.5,641.9C385.9,641.9 387.7,641.8 391.1,641.8C394.6,641.9 396.3,642.2 399.8,642.2C403.3,642.2 405,641.8 408.5,641.8C412,641.7 413.7,641.9 417.2,642C420.6,642.1 422.4,642.2 425.8,642.3C429.3,642.3 431,642.2 434.5,642.1C438,642.1 439.7,642 443.2,642C446.6,642.1 448.4,642.4 451.8,642.4C455.3,642.4 457,642.2 460.5,642.1C464,642 465.7,641.9 469.2,641.8C472.7,641.8 474.4,642 477.9,641.9C481.3,641.9 483.1,641.6 486.5,641.6C490,641.6 491.7,641.9 495.2,641.9C498.7,641.9 500.4,641.7 503.9,641.6C507.3,641.6 509.1,641.7 512.5,641.7C516,641.7 517.7,641.7 521.2,641.6C524.7,641.6 526.4,641.5 529.9,641.6C533.4,641.7 535.1,642 538.6,642.1C542,642.2 543.8,642.1 547.2,642.1C550.7,642.2 552.4,642.5 555.9,642.4C559.4,642.4 561.1,642 564.6,641.9C568,641.9 569.8,642.1 573.2,642.1C576.7,642.2 578.4,642.2 581.9,642.2C585.4,642.2 587.1,642.2 590.6,642.1C594,642.1 595.8,642.1 599.2,642.1C602.7,642.2 604.5,642.3 607.9,642.2C611.4,642.2 613.1,642 616.6,642C620.1,642 621.8,642.2 625.3,642.1C628.7,642.1 630.5,641.8 633.9,641.8C637.4,641.8 639.1,641.9 642.6,642C646.1,642.1 647.8,642.3 651.3,642.3C654.7,642.3 656.5,642.1 659.9,642C663.4,641.9 665.2,641.8 668.6,641.8C672.1,641.8 673.8,642.1 677.3,642.1C680.8,642.2 682.5,642.1 686,642C689.4,641.9 691.2,641.7 694.6,641.7C698.1,641.7 699.8,641.9 703.3,641.9C706.8,642 708.5,641.8 712,641.8C715.4,641.8 717.2,641.9 720.6,641.9C724.1,642 725.8,642.1 729.3,642.1C732.8,642.2 734.5,642.2 738,642.2C741.5,642.2 743.2,642.2 746.7,642.1C750.1,642 751.9,641.8 755.3,641.8C758.8,641.8 760.5,642 764,642.1C767.5,642.1 769.2,642 772.7,641.9C776.1,641.9 777.9,641.7 781.3,641.7C784.8,641.7 786.5,642 790,642C793.5,642.1 795.2,642.2 798.7,642C802.2,641.9 803.9,641.5 807.4,641.5C810.8,641.4 812.6,641.7 816,641.7C819.5,641.8 821.2,641.8 824.7,641.8C828.2,641.8 829.9,641.7 833.4,641.7C836.8,641.7 838.6,641.8 842,641.8C845.5,641.8 847.2,641.7 850.7,641.7C854.2,641.8 855.9,642.1 859.4,642C862.9,641.9 864.6,641.4 868.1,641.2C871.5,641.1 873.3,641.2 876.7,641.4C880.2,641.5 881.9,641.8 885.4,641.8C888.9,641.9 890.6,641.5 894.1,641.5C897.5,641.5 899.3,641.7 902.7,641.8C906.2,641.8 907.9,641.6 911.4,641.6C914.9,641.7 916.6,642 920.1,641.9C923.5,641.9 925.3,641.5 928.7,641.4C932.2,641.2 934,641.3 937.4,641.3" fill="none" stroke="#8b5cf6" stroke-width="2" stroke-dasharray="4 4"/>
<path d="M165.7,642.5C169.2,642.4 170.9,642.3 174.4,642.3C177.8,642.3 179.6,642.4 183,642.4C186.5,642.4 188.2,642.3 191.7,642.3C195.2,642.2 196.9,642.2 200.4,642.3C203.9,642.3 205.6,642.3 209.1,642.4C212.5,642.4 214.3,642.5 217.7,642.5C221.2,642.5 222.9,642.3 226.4,642.3C229.9,642.3 231.6,642.5 235.1,642.5C238.5,642.5 240.3,642.4 243.7,642.3C247.2,642.2 248.9,642.2 252.4,642.2C255.9,642.2 257.6,642.3 261.1,642.3C264.5,642.4 266.3,642.2 269.8,642.3C273.2,642.3 275,642.4 278.4,642.5C281.9,642.5 283.6,642.4 287.1,642.3C290.6,642.3 292.3,642.3 295.8,642.2C299.2,642.2 301,642.2 304.4,642.2C307.9,642.2 309.6,642.3 313.1,642.3C316.6,642.4 318.3,642.3 321.8,642.3C325.2,642.4 327,642.5 330.4,642.4C333.9,642.4 335.7,642.2 339.1,642.2C342.6,642.2 344.3,642.4 347.8,642.4C351.3,642.4 353,642.1 356.5,642.1C359.9,642.1 361.7,642.4 365.1,642.4C368.6,642.4 370.3,642.2 373.8,642.2C377.3,642.1 379,642.1 382.5,642.1C385.9,642.1 387.7,642 391.1,642C394.6,642.1 396.3,642.3 399.8,642.3C403.3,642.3 405,642 408.5,642C412,641.9 413.7,642.1 417.2,642.2C420.6,642.3 422.4,642.3 425.8,642.4C429.3,642.4 431,642.3 434.5,642.3C438,642.2 439.7,642.1 443.2,642.2C446.6,642.2 448.4,642.4 451.8,642.4C455.3,642.4 457,642.3 460.5,642.2C464,642.1 465.7,642.1 469.2,642C472.7,642 474.4,642.2 477.9,642.1C481.3,642.1 483.1,641.9 486.5,641.9C490,641.9 491.7,642 495.2,642C498.7,642.1 500.4,641.9 503.9,641.9C507.3,641.9 509.1,642 512.5,642C516,642 517.7,641.9 521.2,641.9C524.7,641.9 526.4,641.8 529.9,641.9C533.4,642 535.1,642.2 538.6,642.3C542,642.3 543.8,642.2 547.2,642.3C550.7,642.3 552.4,642.5 555.9,642.5C559.4,642.5 561.1,642.2 564.6,642.1C568,642.1 569.8,642.2 573.2,642.3C576.7,642.3 578.4,642.3 581.9,642.3C585.4,642.3 587.1,642.3 590.6,642.3C594,642.2 595.8,642.2 599.2,642.3C602.7,642.3 604.5,642.4 607.9,642.3C611.4,642.3 613.1,642.2 616.6,642.2C620.1,642.2 621.8,642.3 625.3,642.3C628.7,642.2 630.5,642 633.9,642C637.4,642 639.1,642.1 642.6,642.2C646.1,642.3 647.8,642.4 651.3,642.4C654.7,642.4 656.5,642.3 659.9,642.2C663.4,642.1 665.1,642 668.6,642C672.1,642 673.8,642.2 677.3,642.3C680.8,642.3 682.5,642.3 686,642.2C689.4,642.1 691.2,642 694.6,641.9C698.1,641.9 699.8,642.1 703.3,642.1C706.8,642.1 708.5,642 712,642C715.4,642 717.2,642.1 720.6,642.1C724.1,642.2 725.8,642.2 729.3,642.3C732.8,642.3 734.5,642.3 738,642.3C741.5,642.3 743.2,642.3 746.7,642.3C750.1,642.2 751.9,642 755.3,642C758.8,642 760.5,642.2 764,642.2C767.5,642.2 769.2,642.2 772.7,642.1C776.1,642.1 777.9,641.9 781.3,641.9C784.8,642 786.5,642.1 790,642.2C793.5,642.2 795.2,642.3 798.7,642.2C802.2,642.1 803.9,641.8 807.4,641.7C810.8,641.7 812.6,641.9 816,642C819.5,642 821.2,642 824.7,642C828.2,642 829.9,642 833.4,642C836.8,642 838.6,642 842,642C845.5,642 847.2,641.9 850.7,642C854.2,642 855.9,642.3 859.4,642.2C862.9,642.1 864.6,641.7 868.1,641.6C871.5,641.5 873.3,641.6 876.7,641.7C880.2,641.8 881.9,642 885.4,642C888.9,642.1 890.6,641.8 894.1,641.8C897.5,641.8 899.3,642 902.7,642C906.2,642 907.9,641.9 911.4,641.9C914.9,641.9 916.6,642.1 920.1,642.1C923.5,642.1 925.3,641.8 928.7,641.7C932.2,641.6 934,641.6 937.4,641.6" fill="none" stroke="#7466d8" stroke-width="2" stroke-dasharray="4 4"/>
<path d="M165.7,641.1C169.2,640.6 170.9,640 174.4,639.9C177.8,639.9 179.6,640.7 183,640.6C186.5,640.5 188.2,639.7 191.7,639.4C195.2,639.2 196.9,639.3 200.4,639.4C203.9,639.6 205.6,640 209.1,640.3C212.5,640.6 214.3,641.1 217.7,641C221.2,641 222.9,639.9 226.4,639.9C229.9,639.9 231.6,641.1 235.1,641.1C238.5,641.1 240.3,640.2 243.7,639.7C247.2,639.3 248.9,638.9 252.4,638.9C255.9,639 257.6,639.9 261.1,640C264.5,640.1 266.3,639.3 269.8,639.5C273.2,639.7 274.9,640.8 278.4,640.9C281.9,640.9 283.6,640.3 287.1,639.9C290.6,639.6 292.3,639.4 295.8,639.1C299.2,638.9 301,638.6 304.4,638.8C307.9,639 309.6,639.8 313.1,640C316.6,640.3 318.3,639.9 321.8,640.1C325.3,640.2 327,640.9 330.4,640.6C334,640.4 335.6,638.8 339.1,638.7C342.6,638.6 344.3,640.2 347.8,640.2C351.3,640.1 353,638.3 356.5,638.3C359.9,638.4 361.6,640.5 365.1,640.6C368.6,640.7 370.3,639.3 373.8,638.8C377.2,638.3 379,638.5 382.5,638.3C385.9,638.1 387.7,637.3 391.1,637.7C394.7,638 396.4,640 399.8,639.9C403.3,639.9 405,637.5 408.5,637.3C411.9,637 413.7,638.2 417.2,638.8C420.6,639.4 422.3,640 425.8,640.1C429.3,640.3 431,639.8 434.5,639.5C438,639.2 439.7,638.6 443.2,638.8C446.7,639.1 448.4,640.7 451.8,640.7C455.3,640.8 457,639.6 460.5,639C464,638.4 465.7,637.8 469.2,637.7C472.6,637.6 474.4,638.6 477.9,638.3C481.4,638.1 483,636.6 486.5,636.5C490,636.4 491.7,637.8 495.2,637.8C498.7,637.8 500.4,636.6 503.9,636.5C507.3,636.4 509.1,637.2 512.5,637.2C516,637.2 517.7,636.8 521.2,636.6C524.7,636.5 526.5,636 529.9,636.6C533.4,637.1 535,638.8 538.6,639.4C541.9,639.9 543.8,639.1 547.2,639.4C550.7,639.8 552.5,641.3 555.9,641.1C559.4,640.9 561,638.7 564.6,638.3C568,638 569.8,639 573.2,639.4C576.7,639.7 578.4,640 581.9,640C585.4,640 587.1,639.5 590.6,639.4C594,639.3 595.8,639.3 599.2,639.4C602.7,639.6 604.5,640.2 607.9,640.1C611.4,639.9 613.1,638.9 616.6,638.8C620,638.7 621.8,639.7 625.3,639.5C628.8,639.2 630.4,637.7 633.9,637.5C637.4,637.4 639.2,638.2 642.6,638.8C646.1,639.4 647.8,640.5 651.3,640.6C654.7,640.6 656.5,639.5 659.9,638.9C663.4,638.3 665.2,637.5 668.6,637.6C672.1,637.7 673.8,639.2 677.3,639.5C680.7,639.7 682.5,639.3 686,638.9C689.5,638.4 691.1,637.1 694.6,637C698.1,636.9 699.8,638.2 703.3,638.3C706.8,638.5 708.5,637.7 712,637.7C715.4,637.7 717.2,638 720.6,638.3C724.1,638.7 725.8,639 729.3,639.4C732.8,639.7 734.5,640 738,640C741.5,640 743.2,639.9 746.7,639.4C750.2,638.9 751.8,637.6 755.3,637.5C758.8,637.5 760.5,638.8 764,639C767.4,639.1 769.2,638.7 772.7,638.3C776.2,637.9 777.9,636.9 781.3,637C784.8,637.1 786.5,638.5 790,638.9C793.4,639.3 795.3,639.5 798.7,638.9C802.3,638.2 803.8,635.9 807.4,635.5C810.7,635.2 812.5,636.7 816,637.2C819.5,637.6 821.2,637.8 824.7,637.8C828.2,637.8 829.9,637.1 833.4,637.1C836.8,637.1 838.6,637.8 842,637.8C845.5,637.8 847.3,636.9 850.7,637.1C854.2,637.4 856.1,639.4 859.4,638.9C863,638.2 864.4,635.1 868.1,634.2C871.3,633.5 873.3,634.2 876.7,634.9C880.3,635.6 881.9,637.5 885.4,637.7C888.8,637.9 890.6,636 894.1,635.9C897.5,635.9 899.3,637.1 902.7,637.3C906.2,637.4 908,636.4 911.4,636.6C914.9,636.8 916.7,638.5 920.1,638.2C923.6,637.9 925.2,635.8 928.7,635C932.1,634.3 934,634.6 937.4,634.4" fill="none" stroke="#f2b24a" stroke-width="2" stroke-dasharray="4 4"/>
<path d="M165.7,634C169.2,628.3 170.7,620.2 174.4,619.8C177.7,619.5 179.2,631.2 183,632.1C186.1,632.7 188.2,627 191.7,623.6C195.2,620.2 197.1,614.7 200.4,615.1C204,615.5 205.9,621.1 209.1,625.4C212.8,630.5 213.7,637.4 217.7,638.7C220.6,639.7 222.4,633.1 226.4,631.1C229.4,629.6 232,631.5 235.1,630.2C238.9,628.5 240.3,626.2 243.7,623.5C247.2,620.9 249.1,616.6 252.4,616.9C256.1,617.4 257.1,622.9 261.1,625.5C264,627.4 266.8,626.4 269.8,628.3C273.7,630.9 275.8,638.2 278.4,636.8C282.7,634.4 282.3,624.2 287.1,618.9C289.2,616.5 292.3,618.2 295.8,617.5C299.3,616.9 300.9,615.9 304.4,615.6C307.9,615.3 309.7,616.2 313.1,616C316.6,615.7 319.1,612.9 321.8,614.3C326,616.5 326.4,623.8 330.4,625.2C333.3,626.2 335.8,620 339.1,620.2C342.7,620.4 344.1,625.7 347.8,626.4C351,627 353.1,623.1 356.5,623.4C360,623.6 361.6,627.4 365.1,627.7C368.5,628 371.2,627.2 373.8,624.9C378.1,621.1 378.1,616.3 382.5,612.6C385.1,610.4 389.1,608.1 391.1,610.2C396.1,615.1 396,629.1 399.8,630.2C402.9,631 404,617.9 408.5,615.1C411,613.5 413.9,617.3 417.2,619.2C420.8,621.4 422.1,623.3 425.8,625.3C429.1,627 431,628 434.5,628.3C437.9,628.6 439.8,626.4 443.2,626.8C446.8,627.2 449.1,631.6 451.8,630.4C456,628.5 456.8,623.4 460.5,619.1C463.7,615.4 465.3,611.5 469.2,610.4C472.2,609.5 474.5,612.4 477.9,614C481.4,615.6 482.9,617.9 486.5,618.5C489.8,619 492.7,618.9 495.2,616.8C499.6,613 499.4,607.4 503.9,603.8C506.4,601.8 509.1,603.4 512.5,602.9C516,602.5 517.8,602.3 521.2,601.5C524.7,600.7 528.1,596.4 529.9,598.7C535.1,605.4 533.4,617.3 538.6,624C540.3,626.3 543.7,621.5 547.2,621.3C550.6,621.1 554.6,625.8 555.9,623.1C561.5,612.1 560.9,588.2 564.6,587.2C567.8,586.4 567.9,607.6 573.2,618.6C574.8,622 578.3,621.7 581.9,623.1C585.2,624.5 587.3,626.3 590.6,625.8C594.3,625.2 595.6,622.3 599.2,620.4C602.6,618.7 604.4,617.2 607.9,616.8C611.3,616.5 613.5,617.1 616.6,618.6C620.5,620.7 621.5,625 625.3,625.8C628.4,626.4 630.6,623.9 633.9,622.2C637.5,620.3 639.8,615.7 642.6,616.8C646.7,618.4 647.3,627.8 651.3,629C654.2,630 657.5,625.9 659.9,622.3C664.5,615.7 665.1,603.9 668.6,603.7C672,603.6 672.6,617.5 677.3,621.4C679.5,623.3 683.9,620.9 686,618.2C690.8,611.9 691.1,598.9 694.6,598.8C698.1,598.7 698.7,614.2 703.3,617.8C705.6,619.5 708.2,613 712,612.2C715.2,611.5 717.5,612.6 720.6,614C724.4,615.7 725.7,617.9 729.3,620C732.6,621.9 734.4,623.2 738,624C741.3,624.8 743.2,624.3 746.7,624.2C750.1,624 751.9,623.9 755.3,623.4C758.8,622.8 760.8,620.8 764,621.4C767.7,622.2 770.7,629.1 772.7,627C777.6,621.6 776.3,610.8 781.3,602.6C783.2,599.5 786.6,598.4 790,598.6C793.6,598.9 796.4,605.5 798.7,603.7C803.4,600 802.6,591 807.4,584.9C809.5,582.2 814.5,579.1 816,581.6C821.4,590.1 820.3,608.6 824.7,612.3C827.2,614.4 830.4,595 833.4,596.1C837.3,597.5 837.2,614.1 842,618.6C844.2,620.6 846.9,613.7 850.7,612.3C853.8,611.2 857.4,614.6 859.4,612.3C864.4,606.3 863.6,599.2 868.1,591.6C870.6,587.2 874.1,580.6 876.7,582.1C881,584.6 882.6,603.2 885.4,601.5C889.5,599 890.8,570.9 894.1,571.7C897.8,572.7 898.8,604 902.7,606C905.7,607.6 907.7,581.5 911.4,580.7C914.6,580 915,596.1 920.1,602.4C922,604.8 926.8,604.7 928.7,602.4C933.7,596.5 934,590.2 937.4,582" fill="none" stroke="#1fae80" stroke-width="2" stroke-dasharray="4 4"/>
<path d="M165.7,629.4C169.2,601.5 170.4,563.5 174.4,559.6C177.4,556.7 178.8,607.3 183,612.4C185.7,615.6 188.2,593.2 191.7,580.3C195.2,567.5 197.1,547.5 200.4,548.2C204,549 205.7,569.8 209.1,584.2C212.6,599.6 213.7,620.2 217.7,622.8C220.6,624.7 221.3,602 226.4,595.5C228.2,593.2 232.8,602.3 235.1,600.6C239.7,597.1 239.7,589.3 243.7,582.3C246.6,577.4 249.8,569.3 252.4,571C256.8,573.8 256.8,590.9 261.1,593.5C263.7,595.1 267.6,578.9 269.8,581.3C274.5,586.6 274.3,610.1 278.4,612.8C281.2,614.6 284.6,601.1 287.1,592.7C291.6,577.7 291.1,569.2 295.8,554.3C298,547.1 302.5,533.8 304.4,537.3C309.4,546.2 308.5,578.6 313.1,585.1C315.4,588.5 318.9,560.3 321.8,562C325.8,564.4 325,586.1 330.4,595.4C331.9,597.9 336.8,590 339.1,591.7C343.7,595.1 344.5,608.5 347.8,608.1C351.4,607.6 351.6,595.1 356.5,589.4C358.5,587 362.7,586.2 365.1,587.9C369.7,591.3 371.9,605.3 373.8,602.1C378.8,593.6 376.7,573.8 382.5,558.7C383.6,555.7 390,554.2 391.1,556.9C396.9,570.2 397.5,604.2 399.8,598.7C404.4,588 404.7,519.8 408.5,516.5C411.6,513.8 411.9,557.2 417.2,583.5C418.8,591.8 421.6,600.9 425.8,603C428.6,604.3 432.3,597.1 434.5,592.1C439.2,581.3 440.2,561.5 443.2,563.4C447.2,565.9 448.7,604.6 451.8,603.2C455.6,601.6 457,574.8 460.5,555.9C463.9,537.6 466.1,508.3 469.2,510.2C473,512.6 472,549.2 477.9,566.7C478.9,569.8 484.2,560 486.5,561.7C491.1,564.9 493.4,582.8 495.2,578.9C500.4,567.4 499,532.4 503.9,523.3C506,519.3 508,542.7 512.5,546.2C514.9,548.1 518.2,541 521.2,536.9C525.1,531.5 528.5,518.5 529.9,522.7C535.5,540.1 533.2,564.2 538.6,590.9C540.1,598.6 543.5,608.2 547.2,608.8C550.5,609.3 554.7,600.4 555.9,593.6C561.6,561.1 561.1,510.5 564.6,510.6C568,510.7 567.4,570.6 573.2,594.1C574.4,598.6 579,586.2 581.9,580.5C585.9,572.5 588,557.3 590.6,559.8C595,564.1 595.2,594.6 599.2,597.4C602.1,599.3 605,582.1 607.9,571.7C611.9,557.7 614.4,530.9 616.6,536.4C621.3,548.1 620.2,599.7 625.3,614.6C627.1,620 630.3,598.1 633.9,587.1C637.3,577 639.5,560.7 642.6,561.8C646.4,563.1 645.8,583 651.3,593C652.7,595.7 659.2,596.7 659.9,593.7C666.1,568.6 663.4,537.8 668.6,522.6C670.3,517.7 673.1,535.6 677.3,543.6C680.1,548.9 684.2,559.1 686,555.9C691.2,546.4 690.8,513.8 694.6,511.9C697.7,510.3 697.8,534.9 703.3,547.3C704.7,550.4 708.5,549.4 712,550.5C715.4,551.6 717.9,550.9 720.6,553C724.9,556.2 727.6,558.7 729.3,563.9C734.6,580 733.9,603.2 738,606.2C740.9,608.3 743.3,588.5 746.7,576.7C750.2,564.4 752.4,543.7 755.3,545.8C759.3,548.6 758.3,576.4 764,589C765.3,591.8 771.5,587.8 772.7,584.3C778.4,567.8 777,543.9 781.3,538.9C783.9,535.9 784.8,556.1 790,564.5C791.7,567.3 798.1,569.9 798.7,566.8C805,534.5 802.8,487.5 807.4,476C809.7,470 810.8,504.9 816,522.9C817.7,528.8 822.4,538 824.7,535.7C829.4,530.8 830.9,500.9 833.4,504.8C837.9,512.2 836.1,545.2 842,564C843,567.1 847.7,562 850.7,559.7C854.6,556.7 858.3,555.5 859.4,550.8C865.3,524.7 863.4,509.7 868.1,482.7C870.3,469.5 874.7,444.8 876.7,450.4C881.6,463.6 881.5,525.9 885.4,529.6C888.5,532.5 890.7,466 894.1,467C897.7,468.1 897,516 902.7,534.9C903.9,538.8 909.5,521.1 911.4,523.8C916.4,530.8 916.8,559.8 920.1,559C923.7,558.2 924.4,535.3 928.7,519.9C931.4,510.5 934,506.1 937.4,496.9" fill="none" stroke="#e05656" stroke-width="2" stroke-dasharray="4 4"/>
<path d="M165.7,620.7C169.2,587.1 170.5,541 174.4,536.7C177.4,533.4 178.8,595.8 183,601.8C185.7,605.6 188.2,577.5 191.7,561.2C195.2,545 197.1,519.6 200.4,520.6C204.1,521.8 205.8,548.4 209.1,566.9C212.7,587.6 213.6,614.8 217.7,618.8C220.5,621.5 220.9,593.6 226.4,583.9C227.9,581.3 233.2,590.2 235.1,588C240.2,581.9 239.8,572.9 243.7,563.1C246.7,555.8 249.8,543.2 252.4,545.2C256.7,548.5 256.1,570.1 261.1,576.3C263,578.7 268.1,564 269.8,566.9C275,576.2 274.9,606.5 278.4,606.9C281.8,607.3 283.7,584.1 287.1,568.9C290.6,553 291.2,544.7 295.8,529.1C298.1,521.2 302.4,506.7 304.4,510.2C309.3,518.5 308.6,552.3 313.1,558.4C315.5,561.7 319.2,530.8 321.8,533.6C326.2,538.5 325,566.7 330.4,577.9C331.9,580.9 336.8,567.3 339.1,569.2C343.7,572.9 344.3,591.6 347.8,591.8C351.2,592 351.5,575.5 356.5,570.1C358.4,568 362.4,570.7 365.1,573C369.4,576.4 372.4,587.9 373.8,584.3C379.3,570.2 376.6,549.1 382.5,528.6C383.5,525.1 390.2,521.3 391.1,524.4C397.2,544.3 397.1,591.7 399.8,586.2C404,577.5 404.5,494.9 408.5,488.9C411.4,484.5 412.1,531.9 417.2,560C419.1,570.6 421,580.7 425.8,585.6C427.9,587.7 432.6,581.8 434.5,577.7C439.6,566.6 440.3,545.2 443.2,547.4C447.2,550.5 448.9,593.5 451.8,590.9C455.8,587.4 456.9,555.7 460.5,532.3C463.9,510.5 465.9,476.8 469.2,477.9C472.8,479.1 471.8,517.1 477.9,538C478.7,541 484.2,535.5 486.5,537.5C491.2,541.5 493.8,557.3 495.2,553C500.7,536.1 498.7,498.2 503.9,484.4C505.6,479.6 508.2,503.6 512.5,506.5C515.1,508.1 518.3,500.4 521.2,495.7C525.2,489.3 528.7,473.6 529.9,478.7C535.6,504.2 532.7,535.6 538.6,572.2C539.6,579 543.6,587 547.2,587.4C550.5,587.7 555.1,580.3 555.9,574.1C562,527.4 561,455.9 564.6,455.1C568,454.3 567,531.8 573.2,570C573.9,574.2 579.2,565.1 581.9,560.9C586.2,554.3 588,540.8 590.6,542.9C594.9,546.5 595.6,574.5 599.2,575.1C602.6,575.6 604.7,557.6 607.9,545.8C611.6,532.5 614.6,506.3 616.6,512.3C621.5,527.1 620.2,581.9 625.3,597.7C627.2,603.6 630.4,579 633.9,566.6C637.4,554.3 639.7,533.8 642.6,535.9C646.6,538.9 645.7,567.3 651.3,579.4C652.6,582.3 659.2,577.4 659.9,573.3C666.2,539 663.8,497.7 668.6,483.6C670.7,477.4 672,507.8 677.3,522.3C679,526.9 684.8,535 686,531.4C691.8,513.2 690.9,469.9 694.6,467.9C697.8,466.3 697.3,504.4 703.3,522.3C704.3,525.3 708.6,519.7 712,520C715.6,520.4 718.3,521.4 720.6,524.3C725.3,529.9 727.3,533.9 729.3,541.2C734.3,559.2 733.8,583.4 738,587.5C740.7,590.2 743.3,570 746.7,558.2C750.3,545.5 752.3,524.8 755.3,526.5C759.2,528.6 758.3,553.8 764,567.7C765.2,570.6 771.9,571.6 772.7,568.6C778.8,544 776.1,513.2 781.3,498.7C783.1,493.9 785.3,512.6 790,520.4C792.3,524.2 798,531.6 798.7,527.8C805,490.7 802.4,437 807.4,418.2C809.4,410.6 812.6,444.4 816,461.8C819.5,479.2 821.4,506 824.7,505.3C828.3,504.5 830.8,453.1 833.4,458.2C837.8,467 836.1,515.6 842,540C843,544 847.1,533.4 850.7,529.3C854,525.6 858.5,525.2 859.4,520.4C865.5,486.1 863.4,466.9 868.1,431.6C870.3,414.7 874.6,382.9 876.7,389.8C881.6,405.7 881.8,487.1 885.4,488.4C888.7,489.6 890.8,394.1 894.1,396C897.7,398 897.7,478.9 902.7,498.2C904.6,505.2 908.7,458.6 911.4,461.8C915.6,466.8 916,514.5 920.1,518.7C922.9,521.6 925.5,495.3 928.7,479.6C932.4,462.3 934,453.6 937.4,436.2" fill="none" stroke="#2563eb" stroke-width="3"/>
<text x="167.7" y="660.5" text-anchor="end" transform="rotate(-45 167.7 660.5)" class="xl">Dec 30</text><text x="193.7" y="660.5" text-anchor="end" transform="rotate(-45 193.7 660.5)" class="xl">Jan 2</text><text x="219.7" y="660.5" text-anchor="end" transform="rotate(-45 219.7 660.5)" class="xl">Jan 5</text><text x="245.7" y="660.5" text-anchor="end" transform="rotate(-45 245.7 660.5)" class="xl">Jan 8</text><text x="271.8" y="660.5" text-anchor="end" transform="rotate(-45 271.8 660.5)" class="xl">Jan 11</text><text x="297.8" y="660.5" text-anchor="end" transform="rotate(-45 297.8 660.5)" class="xl">Jan 14</text><text x="323.8" y="660.5" text-anchor="end" transform="rotate(-45 323.8 660.5)" class="xl">Jan 17</text><text x="349.8" y="660.5" text-anchor="end" transform="rotate(-45 349.8 660.5)" class="xl">Jan 20</text><text x="375.8" y="660.5" text-anchor="end" transform="rotate(-45 375.8 660.5)" class="xl">Jan 23</text><text x="401.8" y="660.5" text-anchor="end" transform="rotate(-45 401.8 660.5)" class="xl">Jan 26</text><text x="427.8" y="660.5" text-anchor="end" transform="rotate(-45 427.8 660.5)" class="xl">Jan 29</text><text x="453.8" y="660.5" text-anchor="end" transform="rotate(-45 453.8 660.5)" class="xl">Feb 1</text><text x="479.9" y="660.5" text-anchor="end" transform="rotate(-45 479.9 660.5)" class="xl">Feb 4</text><text x="505.9" y="660.5" text-anchor="end" transform="rotate(-45 505.9 660.5)" class="xl">Feb 7</text><text x="531.9" y="660.5" text-anchor="end" transform="rotate(-45 531.9 660.5)" class="xl">Feb 10</text><text x="557.9" y="660.5" text-anchor="end" transform="rotate(-45 557.9 660.5)" class="xl">Feb 13</text><text x="583.9" y="660.5" text-anchor="end" transform="rotate(-45 583.9 660.5)" class="xl">Feb 16</text><text x="609.9" y="660.5" text-anchor="end" transform="rotate(-45 609.9 660.5)" class="xl">Feb 19</text><text x="635.9" y="660.5" text-anchor="end" transform="rotate(-45 635.9 660.5)" class="xl">Feb 22</text><text x="661.9" y="660.5" text-anchor="end" transform="rotate(-45 661.9 660.5)" class="xl">Feb 25</text><text x="688" y="660.5" text-anchor="end" transform="rotate(-45 688 660.5)" class="xl">Feb 28</text><text x="714" y="660.5" text-anchor="end" transform="rotate(-45 714 660.5)" class="xl">Mar 3</text><text x="740" y="660.5" text-anchor="end" transform="rotate(-45 740 660.5)" class="xl">Mar 6</text><text x="766" y="660.5" text-anchor="end" transform="rotate(-45 766 660.5)" class="xl">Mar 9</text><text x="792" y="660.5" text-anchor="end" transform="rotate(-45 792 660.5)" class="xl">Mar 12</text><text x="818" y="660.5" text-anchor="end" transform="rotate(-45 818 660.5)" class="xl">Mar 15</text><text x="844" y="660.5" text-anchor="end" transform="rotate(-45 844 660.5)" class="xl">Mar 18</text><text x="870.1" y="660.5" text-anchor="end" transform="rotate(-45 870.1 660.5)" class="xl">Mar 21</text><text x="896.1" y="660.5" text-anchor="end" transform="rotate(-45 896.1 660.5)" class="xl">Mar 24</text><text x="922.1" y="660.5" text-anchor="end" transform="rotate(-45 922.1 660.5)" class="xl">Mar 27</text>
<circle cx="276.2" cy="369.4" r="7.4" fill="#e8eefc" stroke="#2563eb" stroke-width="3"/><text x="287.7" y="373.2" class="lg">Gross Revenue</text><circle cx="385.3" cy="369.4" r="7.4" fill="#fff" stroke="#1fae7a" stroke-width="2"/><text x="396.8" y="373.2" class="lg">Net Revenue</text><circle cx="481.8" cy="369.4" r="7.4" fill="#fff" stroke="#e25555" stroke-width="2"/><text x="493.8" y="373.2" class="lg">COGS</text><circle cx="547.3" cy="369.4" r="7.4" fill="#fff" stroke="#6366f1" stroke-width="2"/><text x="558.8" y="373.2" class="lg">Orders</text><circle cx="613.3" cy="369.4" r="7.4" fill="#fff" stroke="#f59e0b" stroke-width="2"/><text x="624.8" y="373.2" class="lg">Delivery Fees</text><circle cx="713.3" cy="369.4" r="7.4" fill="#fff" stroke="#8b5cf6" stroke-width="2"/><text x="724.8" y="373.2" class="lg">Service Fees</text>
</svg>
<div class="card" style="left:987px;top:287px;width:421px;height:426px"></div>
<div class="t" style="left:1012.0px;top:315.2px;font-size:14px;font-weight:700;color:#111827;font-family:'Noto Sans','Liberation Sans',sans-serif;">Top Products</div>
<svg class="abs" style="left:0;top:0" width="1440" height="900" viewBox="0 0 1440 900"><defs><clipPath id="pc0"><rect x="1012" y="348" width="371" height="60" rx="8"/></clipPath><clipPath id="pc1"><rect x="1012" y="418" width="371" height="60" rx="8"/></clipPath><clipPath id="pc2"><rect x="1012" y="488" width="371" height="60" rx="8"/></clipPath><clipPath id="pc3"><rect x="1012" y="558" width="371" height="60" rx="8"/></clipPath><clipPath id="pc4"><rect x="1012" y="628" width="371" height="60" rx="8"/></clipPath></defs><g clip-path="url(#pc0)"><path d="M1012,399.8 L1016.2,399.8 L1020.3,399.8 L1024.5,381.8 L1028.7,399.8 L1032.8,399.8 L1037,399.8 L1041.2,368.8 L1045.3,399.8 L1049.5,399.8 L1053.7,372.8 L1057.9,399.8 L1062,399.8 L1066.2,399.8 L1070.4,399.8 L1074.5,399.8 L1078.7,399.8 L1082.9,399.8 L1087,399.8 L1091.2,352.3 L1095.4,399.8 L1099.5,399.8 L1103.7,399.8 L1107.9,399.8 L1112,399.8 L1116.2,399.8 L1120.4,383.8 L1124.6,399.8 L1128.7,389.2 L1132.9,399.8 L1137.1,399.8 L1141.2,399.8 L1145.4,399.8 L1149.6,399.8 L1153.7,399.8 L1157.9,399.8 L1162.1,399.8 L1166.2,399.8 L1170.4,399.8 L1174.6,399.8 L1178.7,399.8 L1182.9,399.8 L1187.1,399.8 L1191.2,399.8 L1195.4,399.8 L1199.6,399.8 L1203.8,399.8 L1207.9,399.8 L1212.1,352.4 L1216.3,387.8 L1220.4,399.8 L1224.6,393.8 L1228.8,368.8 L1232.9,399.8 L1237.1,399.8 L1241.3,398.8 L1245.4,399.8 L1249.6,399.8 L1253.8,399.8 L1257.9,399.8 L1262.1,381.8 L1266.3,399.8 L1270.4,399.8 L1274.6,399.8 L1278.8,399.8 L1283,399.8 L1287.1,399.8 L1291.3,399.8 L1295.5,399.8 L1299.6,399.8 L1303.8,399.8 L1308,352.4 L1312.1,376.8 L1316.3,399.8 L1320.5,399.8 L1324.6,399.8 L1328.8,399.8 L1333,368.8 L1337.1,399.8 L1341.3,399.8 L1345.5,399.8 L1349.7,368.8 L1353.8,399.8 L1358,368.8 L1362.2,399.8 L1366.3,399.8 L1370.5,399.8 L1374.7,399.8 L1378.8,399.8 L1383,399.8 L1383,408 L1012,408 Z" fill="#f1f5fd"/><path d="M1012,399.8 L1016.2,399.8 L1020.3,399.8 L1024.5,381.8 L1028.7,399.8 L1032.8,399.8 L1037,399.8 L1041.2,368.8 L1045.3,399.8 L1049.5,399.8 L1053.7,372.8 L1057.9,399.8 L1062,399.8 L1066.2,399.8 L1070.4,399.8 L1074.5,399.8 L1078.7,399.8 L1082.9,399.8 L1087,399.8 L1091.2,352.3 L1095.4,399.8 L1099.5,399.8 L1103.7,399.8 L1107.9,399.8 L1112,399.8 L1116.2,399.8 L1120.4,383.8 L1124.6,399.8 L1128.7,389.2 L1132.9,399.8 L1137.1,399.8 L1141.2,399.8 L1145.4,399.8 L1149.6,399.8 L1153.7,399.8 L1157.9,399.8 L1162.1,399.8 L1166.2,399.8 L1170.4,399.8 L1174.6,399.8 L1178.7,399.8 L1182.9,399.8 L1187.1,399.8 L1191.2,399.8 L1195.4,399.8 L1199.6,399.8 L1203.8,399.8 L1207.9,399.8 L1212.1,352.4 L1216.3,387.8 L1220.4,399.8 L1224.6,393.8 L1228.8,368.8 L1232.9,399.8 L1237.1,399.8 L1241.3,398.8 L1245.4,399.8 L1249.6,399.8 L1253.8,399.8 L1257.9,399.8 L1262.1,381.8 L1266.3,399.8 L1270.4,399.8 L1274.6,399.8 L1278.8,399.8 L1283,399.8 L1287.1,399.8 L1291.3,399.8 L1295.5,399.8 L1299.6,399.8 L1303.8,399.8 L1308,352.4 L1312.1,376.8 L1316.3,399.8 L1320.5,399.8 L1324.6,399.8 L1328.8,399.8 L1333,368.8 L1337.1,399.8 L1341.3,399.8 L1345.5,399.8 L1349.7,368.8 L1353.8,399.8 L1358,368.8 L1362.2,399.8 L1366.3,399.8 L1370.5,399.8 L1374.7,399.8 L1378.8,399.8 L1383,399.8" fill="none" stroke="#cfdcf7" stroke-width="1.6" stroke-linejoin="round"/></g><g clip-path="url(#pc1)"><path d="M1012,469.8 L1016.2,469.8 L1020.3,469.8 L1024.5,469.8 L1028.7,469.8 L1032.8,469.8 L1037,469.8 L1041.2,469.8 L1045.3,469.8 L1049.5,469.8 L1053.7,469.8 L1057.9,469.8 L1062,469.8 L1066.2,469.8 L1070.4,469.8 L1074.5,469.8 L1078.7,469.8 L1082.9,460.6 L1087,469.8 L1091.2,469.8 L1095.4,468.5 L1099.5,469.8 L1103.7,469.8 L1107.9,469.8 L1112,469.8 L1116.2,469.8 L1120.4,442.1 L1124.6,469.8 L1128.7,469.8 L1132.9,469.8 L1137.1,469.8 L1141.2,469.8 L1145.4,469.8 L1149.6,422.3 L1153.7,469.8 L1157.9,469.8 L1162.1,469.8 L1166.2,469.8 L1170.4,469.8 L1174.6,469.8 L1178.7,469.8 L1182.9,469.8 L1187.1,469.8 L1191.2,469.8 L1195.4,469.8 L1199.6,469.8 L1203.8,442 L1207.9,469.8 L1212.1,469.8 L1216.3,469.8 L1220.4,469.8 L1224.6,469.8 L1228.8,441.4 L1232.9,469.8 L1237.1,469.8 L1241.3,438.3 L1245.4,469.8 L1249.6,469.8 L1253.8,469.8 L1257.9,438.3 L1262.1,469.8 L1266.3,469.8 L1270.4,469.8 L1274.6,469.8 L1278.8,469.8 L1283,469.8 L1287.1,469.8 L1291.3,422.4 L1295.5,469.8 L1299.6,442 L1303.8,469.8 L1308,469.8 L1312.1,469.8 L1316.3,452.2 L1320.5,469.8 L1324.6,454.2 L1328.8,469.8 L1333,469.8 L1337.1,469.8 L1341.3,469.8 L1345.5,469.8 L1349.7,454.8 L1353.8,438.3 L1358,469.8 L1362.2,469.8 L1366.3,452.2 L1370.5,464.8 L1374.7,469.8 L1378.8,469.8 L1383,468.5 L1383,478 L1012,478 Z" fill="#fdf2f2"/><path d="M1012,469.8 L1016.2,469.8 L1020.3,469.8 L1024.5,469.8 L1028.7,469.8 L1032.8,469.8 L1037,469.8 L1041.2,469.8 L1045.3,469.8 L1049.5,469.8 L1053.7,469.8 L1057.9,469.8 L1062,469.8 L1066.2,469.8 L1070.4,469.8 L1074.5,469.8 L1078.7,469.8 L1082.9,460.6 L1087,469.8 L1091.2,469.8 L1095.4,468.5 L1099.5,469.8 L1103.7,469.8 L1107.9,469.8 L1112,469.8 L1116.2,469.8 L1120.4,442.1 L1124.6,469.8 L1128.7,469.8 L1132.9,469.8 L1137.1,469.8 L1141.2,469.8 L1145.4,469.8 L1149.6,422.3 L1153.7,469.8 L1157.9,469.8 L1162.1,469.8 L1166.2,469.8 L1170.4,469.8 L1174.6,469.8 L1178.7,469.8 L1182.9,469.8 L1187.1,469.8 L1191.2,469.8 L1195.4,469.8 L1199.6,469.8 L1203.8,442 L1207.9,469.8 L1212.1,469.8 L1216.3,469.8 L1220.4,469.8 L1224.6,469.8 L1228.8,441.4 L1232.9,469.8 L1237.1,469.8 L1241.3,438.3 L1245.4,469.8 L1249.6,469.8 L1253.8,469.8 L1257.9,438.3 L1262.1,469.8 L1266.3,469.8 L1270.4,469.8 L1274.6,469.8 L1278.8,469.8 L1283,469.8 L1287.1,469.8 L1291.3,422.4 L1295.5,469.8 L1299.6,442 L1303.8,469.8 L1308,469.8 L1312.1,469.8 L1316.3,452.2 L1320.5,469.8 L1324.6,454.2 L1328.8,469.8 L1333,469.8 L1337.1,469.8 L1341.3,469.8 L1345.5,469.8 L1349.7,454.8 L1353.8,438.3 L1358,469.8 L1362.2,469.8 L1366.3,452.2 L1370.5,464.8 L1374.7,469.8 L1378.8,469.8 L1383,468.5" fill="none" stroke="#f8d3d3" stroke-width="1.6" stroke-linejoin="round"/></g><g clip-path="url(#pc2)"><path d="M1012,539.8 L1016.2,539.8 L1020.3,539.8 L1024.5,539.8 L1028.7,539.8 L1032.8,492.3 L1037,539.8 L1041.2,539.8 L1045.3,539.8 L1049.5,539.8 L1053.7,539.8 L1057.9,539.8 L1062,539.8 L1066.2,524.6 L1070.4,539.8 L1074.5,539.8 L1078.7,539.8 L1082.9,539.8 L1087,539.8 L1091.2,539.8 L1095.4,539.8 L1099.5,539.8 L1103.7,539.8 L1107.9,539.8 L1112,539.8 L1116.2,538.5 L1120.4,539.8 L1124.6,516.4 L1128.7,539.8 L1132.9,539.8 L1137.1,539.8 L1141.2,539.8 L1145.4,539.8 L1149.6,539.8 L1153.7,539.8 L1157.9,516.4 L1162.1,539.8 L1166.2,539.8 L1170.4,539.8 L1174.6,539.8 L1178.7,534.9 L1182.9,539.8 L1187.1,539.8 L1191.2,539.8 L1195.4,538.8 L1199.6,539.8 L1203.8,539.8 L1207.9,539.8 L1212.1,539.8 L1216.3,539.8 L1220.4,539.8 L1224.6,531.3 L1228.8,539.8 L1232.9,539.8 L1237.1,539.8 L1241.3,539.8 L1245.4,539.8 L1249.6,539.8 L1253.8,539.8 L1257.9,522.9 L1262.1,539.8 L1266.3,539.8 L1270.4,539.8 L1274.6,539.8 L1278.8,539.8 L1283,539.1 L1287.1,538.8 L1291.3,539.8 L1295.5,531.7 L1299.6,531.7 L1303.8,539.8 L1308,539.8 L1312.1,539.8 L1316.3,539.8 L1320.5,539.8 L1324.6,539.8 L1328.8,535.1 L1333,538.4 L1337.1,539.8 L1341.3,539.8 L1345.5,525.6 L1349.7,530.3 L1353.8,535.1 L1358,539.8 L1362.2,521.5 L1366.3,539.8 L1370.5,539.8 L1374.7,539.8 L1378.8,539.8 L1383,529 L1383,548 L1012,548 Z" fill="#eefaf5"/><path d="M1012,539.8 L1016.2,539.8 L1020.3,539.8 L1024.5,539.8 L1028.7,539.8 L1032.8,492.3 L1037,539.8 L1041.2,539.8 L1045.3,539.8 L1049.5,539.8 L1053.7,539.8 L1057.9,539.8 L1062,539.8 L1066.2,524.6 L1070.4,539.8 L1074.5,539.8 L1078.7,539.8 L1082.9,539.8 L1087,539.8 L1091.2,539.8 L1095.4,539.8 L1099.5,539.8 L1103.7,539.8 L1107.9,539.8 L1112,539.8 L1116.2,538.5 L1120.4,539.8 L1124.6,516.4 L1128.7,539.8 L1132.9,539.8 L1137.1,539.8 L1141.2,539.8 L1145.4,539.8 L1149.6,539.8 L1153.7,539.8 L1157.9,516.4 L1162.1,539.8 L1166.2,539.8 L1170.4,539.8 L1174.6,539.8 L1178.7,534.9 L1182.9,539.8 L1187.1,539.8 L1191.2,539.8 L1195.4,538.8 L1199.6,539.8 L1203.8,539.8 L1207.9,539.8 L1212.1,539.8 L1216.3,539.8 L1220.4,539.8 L1224.6,531.3 L1228.8,539.8 L1232.9,539.8 L1237.1,539.8 L1241.3,539.8 L1245.4,539.8 L1249.6,539.8 L1253.8,539.8 L1257.9,522.9 L1262.1,539.8 L1266.3,539.8 L1270.4,539.8 L1274.6,539.8 L1278.8,539.8 L1283,539.1 L1287.1,538.8 L1291.3,539.8 L1295.5,531.7 L1299.6,531.7 L1303.8,539.8 L1308,539.8 L1312.1,539.8 L1316.3,539.8 L1320.5,539.8 L1324.6,539.8 L1328.8,535.1 L1333,538.4 L1337.1,539.8 L1341.3,539.8 L1345.5,525.6 L1349.7,530.3 L1353.8,535.1 L1358,539.8 L1362.2,521.5 L1366.3,539.8 L1370.5,539.8 L1374.7,539.8 L1378.8,539.8 L1383,529" fill="none" stroke="#c5ebdc" stroke-width="1.6" stroke-linejoin="round"/></g><g clip-path="url(#pc3)"><path d="M1012,609.8 L1016.2,563 L1020.3,609.8 L1024.5,609.8 L1028.7,592 L1032.8,609.8 L1037,609.8 L1041.2,595.3 L1045.3,609.8 L1049.5,609.8 L1053.7,583.4 L1057.9,609.8 L1062,601.9 L1066.2,609.8 L1070.4,609.8 L1074.5,609.8 L1078.7,609.8 L1082.9,609.8 L1087,583.4 L1091.2,609.8 L1095.4,609.8 L1099.5,609.8 L1103.7,609.8 L1107.9,609.8 L1112,609.8 L1116.2,609.8 L1120.4,609.8 L1124.6,609.8 L1128.7,609.8 L1132.9,609.8 L1137.1,609.8 L1141.2,609.8 L1145.4,609.8 L1149.6,609.8 L1153.7,609.8 L1157.9,609.8 L1162.1,609.8 L1166.2,609.8 L1170.4,609.8 L1174.6,592 L1178.7,609.8 L1182.9,609.8 L1187.1,609.8 L1191.2,609.8 L1195.4,609.8 L1199.6,609.8 L1203.8,586.1 L1207.9,562.4 L1212.1,609.8 L1216.3,609.8 L1220.4,609.8 L1224.6,592.2 L1228.8,609.8 L1232.9,609.8 L1237.1,609.8 L1241.3,609.8 L1245.4,609.8 L1249.6,609.8 L1253.8,609.8 L1257.9,562.4 L1262.1,609.8 L1266.3,609.8 L1270.4,609.8 L1274.6,609.8 L1278.8,609.8 L1283,609.8 L1287.1,609.8 L1291.3,609.8 L1295.5,609.8 L1299.6,609.8 L1303.8,609.8 L1308,609.8 L1312.1,609.8 L1316.3,592.2 L1320.5,609.8 L1324.6,593.6 L1328.8,609.8 L1333,592.2 L1337.1,609.8 L1341.3,609.8 L1345.5,599.6 L1349.7,609.8 L1353.8,609.8 L1358,609.8 L1362.2,609.8 L1366.3,609.8 L1370.5,609.8 L1374.7,609.8 L1378.8,609.8 L1383,609.8 L1383,618 L1012,618 Z" fill="#fef8ec"/><path d="M1012,609.8 L1016.2,563 L1020.3,609.8 L1024.5,609.8 L1028.7,592 L1032.8,609.8 L1037,609.8 L1041.2,595.3 L1045.3,609.8 L1049.5,609.8 L1053.7,583.4 L1057.9,609.8 L1062,601.9 L1066.2,609.8 L1070.4,609.8 L1074.5,609.8 L1078.7,609.8 L1082.9,609.8 L1087,583.4 L1091.2,609.8 L1095.4,609.8 L1099.5,609.8 L1103.7,609.8 L1107.9,609.8 L1112,609.8 L1116.2,609.8 L1120.4,609.8 L1124.6,609.8 L1128.7,609.8 L1132.9,609.8 L1137.1,609.8 L1141.2,609.8 L1145.4,609.8 L1149.6,609.8 L1153.7,609.8 L1157.9,609.8 L1162.1,609.8 L1166.2,609.8 L1170.4,609.8 L1174.6,592 L1178.7,609.8 L1182.9,609.8 L1187.1,609.8 L1191.2,609.8 L1195.4,609.8 L1199.6,609.8 L1203.8,586.1 L1207.9,562.4 L1212.1,609.8 L1216.3,609.8 L1220.4,609.8 L1224.6,592.2 L1228.8,609.8 L1232.9,609.8 L1237.1,609.8 L1241.3,609.8 L1245.4,609.8 L1249.6,609.8 L1253.8,609.8 L1257.9,562.4 L1262.1,609.8 L1266.3,609.8 L1270.4,609.8 L1274.6,609.8 L1278.8,609.8 L1283,609.8 L1287.1,609.8 L1291.3,609.8 L1295.5,609.8 L1299.6,609.8 L1303.8,609.8 L1308,609.8 L1312.1,609.8 L1316.3,592.2 L1320.5,609.8 L1324.6,593.6 L1328.8,609.8 L1333,592.2 L1337.1,609.8 L1341.3,609.8 L1345.5,599.6 L1349.7,609.8 L1353.8,609.8 L1358,609.8 L1362.2,609.8 L1366.3,609.8 L1370.5,609.8 L1374.7,609.8 L1378.8,609.8 L1383,609.8" fill="none" stroke="#fae3bd" stroke-width="1.6" stroke-linejoin="round"/></g><g clip-path="url(#pc4)"><path d="M1012,679.8 L1016.2,679.8 L1020.3,679.8 L1024.5,679.8 L1028.7,664.6 L1032.8,679.8 L1037,679.8 L1041.2,679.8 L1045.3,679.8 L1049.5,679.8 L1053.7,679.8 L1057.9,679.8 L1062,679.8 L1066.2,679.8 L1070.4,679.8 L1074.5,679.8 L1078.7,679.8 L1082.9,679.8 L1087,679.8 L1091.2,679.8 L1095.4,679.8 L1099.5,679.8 L1103.7,679.8 L1107.9,679.8 L1112,679.8 L1116.2,679.8 L1120.4,655.8 L1124.6,653.8 L1128.7,679.8 L1132.9,679.8 L1137.1,679.8 L1141.2,679.8 L1145.4,679.8 L1149.6,679.8 L1153.7,679.8 L1157.9,677.2 L1162.1,679.8 L1166.2,638.2 L1170.4,679.8 L1174.6,677.2 L1178.7,679.8 L1182.9,668.6 L1187.1,679.8 L1191.2,679.8 L1195.4,679.8 L1199.6,679.8 L1203.8,679.8 L1207.9,679.8 L1212.1,661.5 L1216.3,679.8 L1220.4,661.5 L1224.6,679.8 L1228.8,679.8 L1232.9,679.8 L1237.1,679.8 L1241.3,679.8 L1245.4,679.8 L1249.6,679.8 L1253.8,679.8 L1257.9,679.8 L1262.1,679.8 L1266.3,632.4 L1270.4,679.8 L1274.6,678.8 L1278.8,676.4 L1283,632.4 L1287.1,679.8 L1291.3,679.8 L1295.5,679.8 L1299.6,679.8 L1303.8,679.8 L1308,679.8 L1312.1,679.8 L1316.3,679.8 L1320.5,679.8 L1324.6,663.6 L1328.8,679.8 L1333,658.8 L1337.1,662.8 L1341.3,664.2 L1345.5,679.8 L1349.7,679.8 L1353.8,679.8 L1358,679.8 L1362.2,678.4 L1366.3,675.1 L1370.5,668.3 L1374.7,679.8 L1378.8,664.2 L1383,679.1 L1383,688 L1012,688 Z" fill="#f6f3fe"/><path d="M1012,679.8 L1016.2,679.8 L1020.3,679.8 L1024.5,679.8 L1028.7,664.6 L1032.8,679.8 L1037,679.8 L1041.2,679.8 L1045.3,679.8 L1049.5,679.8 L1053.7,679.8 L1057.9,679.8 L1062,679.8 L1066.2,679.8 L1070.4,679.8 L1074.5,679.8 L1078.7,679.8 L1082.9,679.8 L1087,679.8 L1091.2,679.8 L1095.4,679.8 L1099.5,679.8 L1103.7,679.8 L1107.9,679.8 L1112,679.8 L1116.2,679.8 L1120.4,655.8 L1124.6,653.8 L1128.7,679.8 L1132.9,679.8 L1137.1,679.8 L1141.2,679.8 L1145.4,679.8 L1149.6,679.8 L1153.7,679.8 L1157.9,677.2 L1162.1,679.8 L1166.2,638.2 L1170.4,679.8 L1174.6,677.2 L1178.7,679.8 L1182.9,668.6 L1187.1,679.8 L1191.2,679.8 L1195.4,679.8 L1199.6,679.8 L1203.8,679.8 L1207.9,679.8 L1212.1,661.5 L1216.3,679.8 L1220.4,661.5 L1224.6,679.8 L1228.8,679.8 L1232.9,679.8 L1237.1,679.8 L1241.3,679.8 L1245.4,679.8 L1249.6,679.8 L1253.8,679.8 L1257.9,679.8 L1262.1,679.8 L1266.3,632.4 L1270.4,679.8 L1274.6,678.8 L1278.8,676.4 L1283,632.4 L1287.1,679.8 L1291.3,679.8 L1295.5,679.8 L1299.6,679.8 L1303.8,679.8 L1308,679.8 L1312.1,679.8 L1316.3,679.8 L1320.5,679.8 L1324.6,663.6 L1328.8,679.8 L1333,658.8 L1337.1,662.8 L1341.3,664.2 L1345.5,679.8 L1349.7,679.8 L1353.8,679.8 L1358,679.8 L1362.2,678.4 L1366.3,675.1 L1370.5,668.3 L1374.7,679.8 L1378.8,664.2 L1383,679.1" fill="none" stroke="#ddd3fb" stroke-width="1.6" stroke-linejoin="round"/></g></svg>
<div class="prow" style="top:348px">
<div class="rank" style="background:rgba(59,130,246,0.11);color:#3b82f6">1</div>
<div class="pname">UK Cheese</div><div class="psold">37 sold</div>
<div class="pprice">$2,400.00</div></div><div class="prow" style="top:418px">
<div class="rank" style="background:rgba(239,68,68,0.11);color:#ef4444">2</div>
<div class="pname">Platinum Kush Breath</div><div class="psold">38 sold</div>
<div class="pprice">$2,191.00</div></div><div class="prow" style="top:488px">
<div class="rank" style="background:rgba(16,185,129,0.11);color:#10b981">3</div>
<div class="pname">Cap Junky</div><div class="psold">49 sold</div>
<div class="pprice">$2,141.00</div></div><div class="prow" style="top:558px">
<div class="rank" style="background:rgba(245,158,11,0.11);color:#f59e0b">4</div>
<div class="pname">Tom Ford</div><div class="psold">33 sold</div>
<div class="pprice">$2,021.00</div></div><div class="prow" style="top:628px">
<div class="rank" style="background:rgba(139,92,246,0.11);color:#8b5cf6">5</div>
<div class="pname">Vanilla Frost</div><div class="psold">44 sold</div>
<div class="pprice">$2,006.00</div></div>
<div class="card" style="left:96px;top:737px;width:1312px;height:200px"></div>
<div class="t" style="left:121.0px;top:765.1px;font-size:14px;font-weight:700;color:#111827;font-family:'Noto Sans','Liberation Sans',sans-serif;">Daily Breakdown</div>
<div class="t" style="left:121.0px;top:799.4px;font-size:12px;font-weight:400;color:#9ca3af;font-family:'Noto Sans','Liberation Sans',sans-serif;">Times shown in America/Asuncion</div>
<div class="abs" style="left:121px;top:826px;width:1262px;height:37px;background:#f9fafb;border-bottom:1px solid #e5e7eb"></div>
<div class="t" style="left:137.5px;top:837.8px;font-size:12px;font-weight:700;color:#6b7280;font-family:'Noto Sans','Liberation Sans',sans-serif;letter-spacing:0.05em">DATE <span style="font-weight:400;color:#6b7280">&#8595;</span></div>
<div class="t" style="right:870.0px;top:837.8px;font-size:12px;font-weight:700;color:#6b7280;font-family:'Noto Sans','Liberation Sans',sans-serif;letter-spacing:0.05em">ORDERS <span style="font-weight:400;color:#c8ccd2;font-size:11px">&#8597;</span></div>
<div class="t" style="right:692.0px;top:837.8px;font-size:12px;font-weight:700;color:#6b7280;font-family:'Noto Sans','Liberation Sans',sans-serif;letter-spacing:0.05em">GROSS REV. <span style="font-weight:400;color:#c8ccd2;font-size:11px">&#8597;</span></div>
<div class="t" style="right:545.0px;top:837.8px;font-size:12px;font-weight:700;color:#6b7280;font-family:'Noto Sans','Liberation Sans',sans-serif;letter-spacing:0.05em">COGS <span style="font-weight:400;color:#c8ccd2;font-size:11px">&#8597;</span></div>
<div class="t" style="right:392.0px;top:837.8px;font-size:12px;font-weight:700;color:#6b7280;font-family:'Noto Sans','Liberation Sans',sans-serif;letter-spacing:0.05em">NET REV. <span style="font-weight:400;color:#c8ccd2;font-size:11px">&#8597;</span></div>
<div class="t" style="right:233.0px;top:837.8px;font-size:12px;font-weight:700;color:#6b7280;font-family:'Noto Sans','Liberation Sans',sans-serif;letter-spacing:0.05em">DEL. FEES <span style="font-weight:400;color:#c8ccd2;font-size:11px">&#8597;</span></div>
<div class="t" style="right:74.0px;top:837.8px;font-size:12px;font-weight:700;color:#6b7280;font-family:'Noto Sans','Liberation Sans',sans-serif;letter-spacing:0.05em">SVC. FEES <span style="font-weight:400;color:#c8ccd2;font-size:11px">&#8597;</span></div>
<div class="t" style="left:137.5px;top:876.2px;font-size:14px;font-weight:400;color:#1f2937;font-family:'Noto Sans','Liberation Sans',sans-serif;">Today</div>
<div class="t" style="right:870.3px;top:876.2px;font-size:14px;font-weight:400;color:#4b5563;font-family:'Noto Sans','Liberation Sans',sans-serif;">15</div>
<div class="t" style="right:691.3px;top:876.2px;font-size:14px;font-weight:500;color:#111827;font-family:'Noto Sans','Liberation Sans',sans-serif;">$2,797.90</div>
<div class="t" style="right:544.2px;top:876.2px;font-size:14px;font-weight:400;color:#c81e2a;font-family:'Noto Sans','Liberation Sans',sans-serif;">$1,975.60</div>
<div class="t" style="right:391.2px;top:876.2px;font-size:14px;font-weight:500;color:#16a34a;font-family:'Noto Sans','Liberation Sans',sans-serif;">$822.30</div>
<div class="t" style="right:232.2px;top:876.2px;font-size:14px;font-weight:400;color:#4b5563;font-family:'Noto Sans','Liberation Sans',sans-serif;">$104.30</div>
<div class="t" style="right:73.2px;top:876.2px;font-size:14px;font-weight:400;color:#4b5563;font-family:'Noto Sans','Liberation Sans',sans-serif;">$19.60</div>
</body></html>
